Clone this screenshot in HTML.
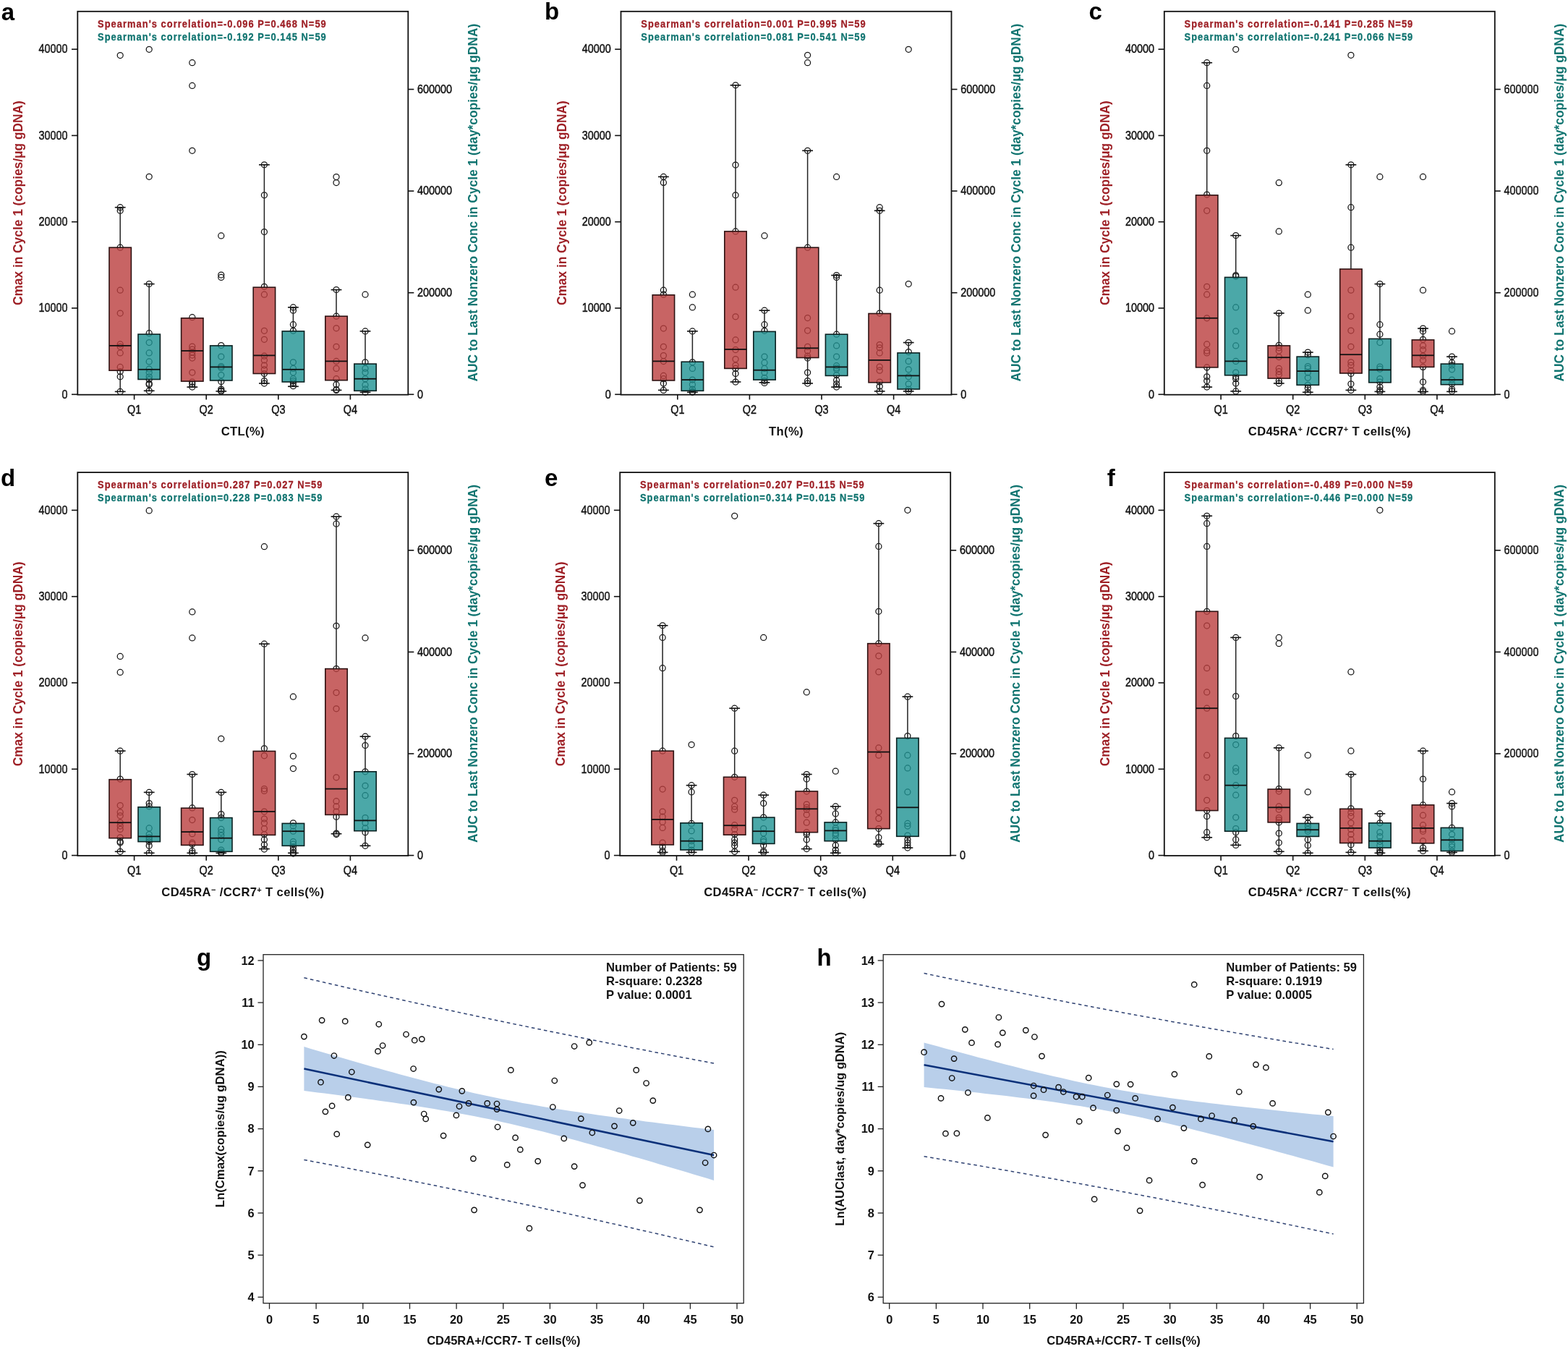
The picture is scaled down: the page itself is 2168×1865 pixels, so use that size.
<!DOCTYPE html>
<html><head><meta charset="utf-8"><title>Figure</title>
<style>
html,body{margin:0;padding:0;background:#fff;}
svg{display:block;}
text{font-family:'Liberation Sans', Arial, sans-serif;}
.tk{font-size:16px;fill:#111;stroke:#111;stroke-width:0.45px;}
.al{font-size:17.5px;font-weight:bold;}
.sp{font-size:15px;font-weight:bold;letter-spacing:1.2px;stroke-width:0.3px;}
.xl{font-size:16.6px;font-weight:bold;fill:#111;letter-spacing:0.37px;}
.lt{font-size:33px;font-weight:bold;fill:#000;}
.sup{font-size:11px;}
.st{font-size:16.4px;font-weight:bold;fill:#111;}
.sx{font-size:16.5px;font-weight:bold;fill:#111;}
.sy{font-size:16.8px;font-weight:bold;fill:#111;}
.ss{font-size:16.6px;font-weight:bold;fill:#111;}
</style></head><body>
<svg width="2168" height="1865" viewBox="0 0 2168 1865">
<rect width="2168" height="1865" fill="#fff"/>
<circle cx="166.2" cy="286.7" r="4.0" fill="none" stroke="#151515" stroke-width="1.25"/>
<circle cx="166.2" cy="291.3" r="4.0" fill="none" stroke="#151515" stroke-width="1.25"/>
<circle cx="166.2" cy="342.2" r="4.0" fill="none" stroke="#151515" stroke-width="1.25"/>
<circle cx="166.2" cy="401.2" r="4.0" fill="none" stroke="#151515" stroke-width="1.25"/>
<circle cx="166.2" cy="433" r="4.0" fill="none" stroke="#151515" stroke-width="1.25"/>
<circle cx="166.2" cy="475.9" r="4.0" fill="none" stroke="#151515" stroke-width="1.25"/>
<circle cx="166.2" cy="479.3" r="4.0" fill="none" stroke="#151515" stroke-width="1.25"/>
<circle cx="166.2" cy="487.9" r="4.0" fill="none" stroke="#151515" stroke-width="1.25"/>
<circle cx="166.2" cy="507.4" r="4.0" fill="none" stroke="#151515" stroke-width="1.25"/>
<circle cx="166.2" cy="513.7" r="4.0" fill="none" stroke="#151515" stroke-width="1.25"/>
<circle cx="166.2" cy="520.8" r="4.0" fill="none" stroke="#151515" stroke-width="1.25"/>
<circle cx="166.2" cy="541.4" r="4.0" fill="none" stroke="#151515" stroke-width="1.25"/>
<circle cx="166.2" cy="76.6" r="4.0" fill="none" stroke="#151515" stroke-width="1.25"/>
<line x1="166.2" y1="286.7" x2="166.2" y2="342.2" stroke="#222" stroke-width="1.5"/>
<line x1="158.8" y1="286.7" x2="173.6" y2="286.7" stroke="#111" stroke-width="1.6"/>
<line x1="166.2" y1="512.2" x2="166.2" y2="541.4" stroke="#222" stroke-width="1.5"/>
<line x1="158.8" y1="541.4" x2="173.6" y2="541.4" stroke="#111" stroke-width="1.6"/>
<rect x="151" y="342.2" width="30.4" height="170" fill="#ba3d3d" fill-opacity="0.8" stroke="#2e1212" stroke-width="1.6"/>
<line x1="151" y1="477.9" x2="181.4" y2="477.9" stroke="#111" stroke-width="1.8"/>
<circle cx="206.2" cy="392.6" r="4.0" fill="none" stroke="#151515" stroke-width="1.25"/>
<circle cx="206.2" cy="460.7" r="4.0" fill="none" stroke="#151515" stroke-width="1.25"/>
<circle cx="206.2" cy="473.6" r="4.0" fill="none" stroke="#151515" stroke-width="1.25"/>
<circle cx="206.2" cy="487.9" r="4.0" fill="none" stroke="#151515" stroke-width="1.25"/>
<circle cx="206.2" cy="499.9" r="4.0" fill="none" stroke="#151515" stroke-width="1.25"/>
<circle cx="206.2" cy="510.2" r="4.0" fill="none" stroke="#151515" stroke-width="1.25"/>
<circle cx="206.2" cy="515.1" r="4.0" fill="none" stroke="#151515" stroke-width="1.25"/>
<circle cx="206.2" cy="520.8" r="4.0" fill="none" stroke="#151515" stroke-width="1.25"/>
<circle cx="206.2" cy="524.5" r="4.0" fill="none" stroke="#151515" stroke-width="1.25"/>
<circle cx="206.2" cy="530.3" r="4.0" fill="none" stroke="#151515" stroke-width="1.25"/>
<circle cx="206.2" cy="531.7" r="4.0" fill="none" stroke="#151515" stroke-width="1.25"/>
<circle cx="206.2" cy="540.3" r="4.0" fill="none" stroke="#151515" stroke-width="1.25"/>
<circle cx="206.2" cy="68.3" r="4.0" fill="none" stroke="#151515" stroke-width="1.25"/>
<circle cx="206.2" cy="244.3" r="4.0" fill="none" stroke="#151515" stroke-width="1.25"/>
<line x1="206.2" y1="392.6" x2="206.2" y2="462.1" stroke="#222" stroke-width="1.5"/>
<line x1="198.8" y1="392.6" x2="213.6" y2="392.6" stroke="#111" stroke-width="1.6"/>
<line x1="206.2" y1="524.5" x2="206.2" y2="540.3" stroke="#222" stroke-width="1.5"/>
<line x1="198.8" y1="540.3" x2="213.6" y2="540.3" stroke="#111" stroke-width="1.6"/>
<rect x="191" y="462.1" width="30.4" height="62.4" fill="#1e9292" fill-opacity="0.8" stroke="#0a2222" stroke-width="1.6"/>
<line x1="191" y1="510.8" x2="221.4" y2="510.8" stroke="#111" stroke-width="1.8"/>
<circle cx="265.8" cy="438.7" r="4.0" fill="none" stroke="#151515" stroke-width="1.25"/>
<circle cx="265.8" cy="479" r="4.0" fill="none" stroke="#151515" stroke-width="1.25"/>
<circle cx="265.8" cy="483" r="4.0" fill="none" stroke="#151515" stroke-width="1.25"/>
<circle cx="265.8" cy="487" r="4.0" fill="none" stroke="#151515" stroke-width="1.25"/>
<circle cx="265.8" cy="491" r="4.0" fill="none" stroke="#151515" stroke-width="1.25"/>
<circle cx="265.8" cy="495" r="4.0" fill="none" stroke="#151515" stroke-width="1.25"/>
<circle cx="265.8" cy="515.1" r="4.0" fill="none" stroke="#151515" stroke-width="1.25"/>
<circle cx="265.8" cy="528" r="4.0" fill="none" stroke="#151515" stroke-width="1.25"/>
<circle cx="265.8" cy="531" r="4.0" fill="none" stroke="#151515" stroke-width="1.25"/>
<circle cx="265.8" cy="535" r="4.0" fill="none" stroke="#151515" stroke-width="1.25"/>
<circle cx="265.8" cy="86.7" r="4.0" fill="none" stroke="#151515" stroke-width="1.25"/>
<circle cx="265.8" cy="118.4" r="4.0" fill="none" stroke="#151515" stroke-width="1.25"/>
<circle cx="265.8" cy="208.3" r="4.0" fill="none" stroke="#151515" stroke-width="1.25"/>
<line x1="265.8" y1="527.1" x2="265.8" y2="535.1" stroke="#222" stroke-width="1.5"/>
<line x1="258.4" y1="535.1" x2="273.2" y2="535.1" stroke="#111" stroke-width="1.6"/>
<rect x="250.6" y="439.8" width="30.4" height="87.3" fill="#ba3d3d" fill-opacity="0.8" stroke="#2e1212" stroke-width="1.6"/>
<line x1="250.6" y1="485" x2="281" y2="485" stroke="#111" stroke-width="1.8"/>
<circle cx="305.8" cy="477.5" r="4.0" fill="none" stroke="#151515" stroke-width="1.25"/>
<circle cx="305.8" cy="493" r="4.0" fill="none" stroke="#151515" stroke-width="1.25"/>
<circle cx="305.8" cy="506.5" r="4.0" fill="none" stroke="#151515" stroke-width="1.25"/>
<circle cx="305.8" cy="508.5" r="4.0" fill="none" stroke="#151515" stroke-width="1.25"/>
<circle cx="305.8" cy="518.5" r="4.0" fill="none" stroke="#151515" stroke-width="1.25"/>
<circle cx="305.8" cy="527.5" r="4.0" fill="none" stroke="#151515" stroke-width="1.25"/>
<circle cx="305.8" cy="538" r="4.0" fill="none" stroke="#151515" stroke-width="1.25"/>
<circle cx="305.8" cy="540" r="4.0" fill="none" stroke="#151515" stroke-width="1.25"/>
<circle cx="305.8" cy="541" r="4.0" fill="none" stroke="#151515" stroke-width="1.25"/>
<circle cx="305.8" cy="325.9" r="4.0" fill="none" stroke="#151515" stroke-width="1.25"/>
<circle cx="305.8" cy="380" r="4.0" fill="none" stroke="#151515" stroke-width="1.25"/>
<circle cx="305.8" cy="383.4" r="4.0" fill="none" stroke="#151515" stroke-width="1.25"/>
<line x1="305.8" y1="526" x2="305.8" y2="540.9" stroke="#222" stroke-width="1.5"/>
<line x1="298.4" y1="540.9" x2="313.2" y2="540.9" stroke="#111" stroke-width="1.6"/>
<rect x="290.6" y="477.9" width="30.4" height="48.1" fill="#1e9292" fill-opacity="0.8" stroke="#0a2222" stroke-width="1.6"/>
<line x1="290.6" y1="507.4" x2="321" y2="507.4" stroke="#111" stroke-width="1.8"/>
<circle cx="365.4" cy="227.8" r="4.0" fill="none" stroke="#151515" stroke-width="1.25"/>
<circle cx="365.4" cy="269.8" r="4.0" fill="none" stroke="#151515" stroke-width="1.25"/>
<circle cx="365.4" cy="320.5" r="4.0" fill="none" stroke="#151515" stroke-width="1.25"/>
<circle cx="365.4" cy="396.3" r="4.0" fill="none" stroke="#151515" stroke-width="1.25"/>
<circle cx="365.4" cy="407.2" r="4.0" fill="none" stroke="#151515" stroke-width="1.25"/>
<circle cx="365.4" cy="457.3" r="4.0" fill="none" stroke="#151515" stroke-width="1.25"/>
<circle cx="365.4" cy="469.3" r="4.0" fill="none" stroke="#151515" stroke-width="1.25"/>
<circle cx="365.4" cy="492.2" r="4.0" fill="none" stroke="#151515" stroke-width="1.25"/>
<circle cx="365.4" cy="497.9" r="4.0" fill="none" stroke="#151515" stroke-width="1.25"/>
<circle cx="365.4" cy="505.1" r="4.0" fill="none" stroke="#151515" stroke-width="1.25"/>
<circle cx="365.4" cy="510.8" r="4.0" fill="none" stroke="#151515" stroke-width="1.25"/>
<circle cx="365.4" cy="516.5" r="4.0" fill="none" stroke="#151515" stroke-width="1.25"/>
<circle cx="365.4" cy="526.6" r="4.0" fill="none" stroke="#151515" stroke-width="1.25"/>
<circle cx="365.4" cy="530" r="4.0" fill="none" stroke="#151515" stroke-width="1.25"/>
<line x1="365.4" y1="227.8" x2="365.4" y2="397.2" stroke="#222" stroke-width="1.5"/>
<line x1="358" y1="227.8" x2="372.8" y2="227.8" stroke="#111" stroke-width="1.6"/>
<line x1="365.4" y1="516.5" x2="365.4" y2="530" stroke="#222" stroke-width="1.5"/>
<line x1="358" y1="530" x2="372.8" y2="530" stroke="#111" stroke-width="1.6"/>
<rect x="350.2" y="397.2" width="30.4" height="119.3" fill="#ba3d3d" fill-opacity="0.8" stroke="#2e1212" stroke-width="1.6"/>
<line x1="350.2" y1="491.4" x2="380.6" y2="491.4" stroke="#111" stroke-width="1.8"/>
<circle cx="405.4" cy="424.9" r="4.0" fill="none" stroke="#151515" stroke-width="1.25"/>
<circle cx="405.4" cy="429.2" r="4.0" fill="none" stroke="#151515" stroke-width="1.25"/>
<circle cx="405.4" cy="448.7" r="4.0" fill="none" stroke="#151515" stroke-width="1.25"/>
<circle cx="405.4" cy="457.3" r="4.0" fill="none" stroke="#151515" stroke-width="1.25"/>
<circle cx="405.4" cy="500.8" r="4.0" fill="none" stroke="#151515" stroke-width="1.25"/>
<circle cx="405.4" cy="509.4" r="4.0" fill="none" stroke="#151515" stroke-width="1.25"/>
<circle cx="405.4" cy="515.1" r="4.0" fill="none" stroke="#151515" stroke-width="1.25"/>
<circle cx="405.4" cy="523.7" r="4.0" fill="none" stroke="#151515" stroke-width="1.25"/>
<circle cx="405.4" cy="526.6" r="4.0" fill="none" stroke="#151515" stroke-width="1.25"/>
<circle cx="405.4" cy="529.4" r="4.0" fill="none" stroke="#151515" stroke-width="1.25"/>
<circle cx="405.4" cy="533.7" r="4.0" fill="none" stroke="#151515" stroke-width="1.25"/>
<line x1="405.4" y1="424.9" x2="405.4" y2="457.9" stroke="#222" stroke-width="1.5"/>
<line x1="398" y1="424.9" x2="412.8" y2="424.9" stroke="#111" stroke-width="1.6"/>
<line x1="405.4" y1="528" x2="405.4" y2="534.3" stroke="#222" stroke-width="1.5"/>
<line x1="398" y1="534.3" x2="412.8" y2="534.3" stroke="#111" stroke-width="1.6"/>
<rect x="390.2" y="457.9" width="30.4" height="70.1" fill="#1e9292" fill-opacity="0.8" stroke="#0a2222" stroke-width="1.6"/>
<line x1="390.2" y1="510.8" x2="420.6" y2="510.8" stroke="#111" stroke-width="1.8"/>
<circle cx="465" cy="400.6" r="4.0" fill="none" stroke="#151515" stroke-width="1.25"/>
<circle cx="465" cy="437.2" r="4.0" fill="none" stroke="#151515" stroke-width="1.25"/>
<circle cx="465" cy="453.8" r="4.0" fill="none" stroke="#151515" stroke-width="1.25"/>
<circle cx="465" cy="479.3" r="4.0" fill="none" stroke="#151515" stroke-width="1.25"/>
<circle cx="465" cy="499.4" r="4.0" fill="none" stroke="#151515" stroke-width="1.25"/>
<circle cx="465" cy="509.4" r="4.0" fill="none" stroke="#151515" stroke-width="1.25"/>
<circle cx="465" cy="523.7" r="4.0" fill="none" stroke="#151515" stroke-width="1.25"/>
<circle cx="465" cy="531.7" r="4.0" fill="none" stroke="#151515" stroke-width="1.25"/>
<circle cx="465" cy="538.6" r="4.0" fill="none" stroke="#151515" stroke-width="1.25"/>
<circle cx="465" cy="539.4" r="4.0" fill="none" stroke="#151515" stroke-width="1.25"/>
<circle cx="465" cy="244.6" r="4.0" fill="none" stroke="#151515" stroke-width="1.25"/>
<circle cx="465" cy="252.6" r="4.0" fill="none" stroke="#151515" stroke-width="1.25"/>
<line x1="465" y1="400.6" x2="465" y2="437.2" stroke="#222" stroke-width="1.5"/>
<line x1="457.6" y1="400.6" x2="472.4" y2="400.6" stroke="#111" stroke-width="1.6"/>
<line x1="465" y1="525.7" x2="465" y2="539.4" stroke="#222" stroke-width="1.5"/>
<line x1="457.6" y1="539.4" x2="472.4" y2="539.4" stroke="#111" stroke-width="1.6"/>
<rect x="449.8" y="437.2" width="30.4" height="88.5" fill="#ba3d3d" fill-opacity="0.8" stroke="#2e1212" stroke-width="1.6"/>
<line x1="449.8" y1="499.4" x2="480.2" y2="499.4" stroke="#111" stroke-width="1.8"/>
<circle cx="505" cy="457.9" r="4.0" fill="none" stroke="#151515" stroke-width="1.25"/>
<circle cx="505" cy="500.8" r="4.0" fill="none" stroke="#151515" stroke-width="1.25"/>
<circle cx="505" cy="509.4" r="4.0" fill="none" stroke="#151515" stroke-width="1.25"/>
<circle cx="505" cy="515.1" r="4.0" fill="none" stroke="#151515" stroke-width="1.25"/>
<circle cx="505" cy="523.7" r="4.0" fill="none" stroke="#151515" stroke-width="1.25"/>
<circle cx="505" cy="532.2" r="4.0" fill="none" stroke="#151515" stroke-width="1.25"/>
<circle cx="505" cy="537.9" r="4.0" fill="none" stroke="#151515" stroke-width="1.25"/>
<circle cx="505" cy="542.3" r="4.0" fill="none" stroke="#151515" stroke-width="1.25"/>
<circle cx="505" cy="407.2" r="4.0" fill="none" stroke="#151515" stroke-width="1.25"/>
<line x1="505" y1="457.9" x2="505" y2="503.1" stroke="#222" stroke-width="1.5"/>
<line x1="497.6" y1="457.9" x2="512.4" y2="457.9" stroke="#111" stroke-width="1.6"/>
<line x1="505" y1="540.3" x2="505" y2="542.3" stroke="#222" stroke-width="1.5"/>
<line x1="497.6" y1="542.3" x2="512.4" y2="542.3" stroke="#111" stroke-width="1.6"/>
<rect x="489.8" y="503.1" width="30.4" height="37.2" fill="#1e9292" fill-opacity="0.8" stroke="#0a2222" stroke-width="1.6"/>
<line x1="489.8" y1="523.7" x2="520.2" y2="523.7" stroke="#111" stroke-width="1.8"/>
<rect x="107.3" y="15.8" width="457" height="529.9" fill="none" stroke="#111" stroke-width="1.8"/>
<line x1="99" y1="545.3" x2="107.3" y2="545.3" stroke="#111" stroke-width="1.6"/>
<text transform="translate(93.6,550.6) scale(0.9,1)" text-anchor="end" class="tk">0</text>
<line x1="99" y1="426" x2="107.3" y2="426" stroke="#111" stroke-width="1.6"/>
<text transform="translate(93.6,431.3) scale(0.9,1)" text-anchor="end" class="tk">10000</text>
<line x1="99" y1="306.7" x2="107.3" y2="306.7" stroke="#111" stroke-width="1.6"/>
<text transform="translate(93.6,312) scale(0.9,1)" text-anchor="end" class="tk">20000</text>
<line x1="99" y1="187.4" x2="107.3" y2="187.4" stroke="#111" stroke-width="1.6"/>
<text transform="translate(93.6,192.7) scale(0.9,1)" text-anchor="end" class="tk">30000</text>
<line x1="99" y1="68.1" x2="107.3" y2="68.1" stroke="#111" stroke-width="1.6"/>
<text transform="translate(93.6,73.4) scale(0.9,1)" text-anchor="end" class="tk">40000</text>
<line x1="564.3" y1="545.3" x2="572.3" y2="545.3" stroke="#111" stroke-width="1.6"/>
<text transform="translate(577,550.6) scale(0.9,1)" class="tk">0</text>
<line x1="564.3" y1="404.7" x2="572.3" y2="404.7" stroke="#111" stroke-width="1.6"/>
<text transform="translate(577,410) scale(0.9,1)" class="tk">200000</text>
<line x1="564.3" y1="264.1" x2="572.3" y2="264.1" stroke="#111" stroke-width="1.6"/>
<text transform="translate(577,269.4) scale(0.9,1)" class="tk">400000</text>
<line x1="564.3" y1="123.5" x2="572.3" y2="123.5" stroke="#111" stroke-width="1.6"/>
<text transform="translate(577,128.8) scale(0.9,1)" class="tk">600000</text>
<line x1="185.6" y1="545.7" x2="185.6" y2="552.5" stroke="#111" stroke-width="1.6"/>
<text transform="translate(185.6,572) scale(0.9,1)" text-anchor="middle" class="tk">Q1</text>
<line x1="285.2" y1="545.7" x2="285.2" y2="552.5" stroke="#111" stroke-width="1.6"/>
<text transform="translate(285.2,572) scale(0.9,1)" text-anchor="middle" class="tk">Q2</text>
<line x1="384.8" y1="545.7" x2="384.8" y2="552.5" stroke="#111" stroke-width="1.6"/>
<text transform="translate(384.8,572) scale(0.9,1)" text-anchor="middle" class="tk">Q3</text>
<line x1="484.4" y1="545.7" x2="484.4" y2="552.5" stroke="#111" stroke-width="1.6"/>
<text transform="translate(484.4,572) scale(0.9,1)" text-anchor="middle" class="tk">Q4</text>
<text transform="translate(31.3,280.6) rotate(-90) scale(0.99,1)" text-anchor="middle" class="al" fill="#9e2026" >Cmax in Cycle 1 (copies/μg gDNA)</text>
<text transform="translate(659.8,280.2) rotate(-90) scale(0.993,1)" text-anchor="middle" class="al" fill="#107470" >AUC to Last Nonzero Conc in Cycle 1 (day*copies/μg gDNA)</text>
<text transform="translate(135.1,37.6) scale(0.86,1)" class="sp" fill="#9e2026" stroke="#9e2026">Spearman's correlation=-0.096 P=0.468 N=59</text>
<text transform="translate(135.1,55.6) scale(0.86,1)" class="sp" fill="#107470" stroke="#107470">Spearman's correlation=-0.192 P=0.145 N=59</text>
<text transform="translate(335.8,602.1)" text-anchor="middle" class="xl">CTL(%)</text>
<text x="1.8" y="28" class="lt">a</text>
<circle cx="917.4" cy="244.4" r="4.0" fill="none" stroke="#151515" stroke-width="1.25"/>
<circle cx="917.4" cy="252.4" r="4.0" fill="none" stroke="#151515" stroke-width="1.25"/>
<circle cx="917.4" cy="401.2" r="4.0" fill="none" stroke="#151515" stroke-width="1.25"/>
<circle cx="917.4" cy="407.2" r="4.0" fill="none" stroke="#151515" stroke-width="1.25"/>
<circle cx="917.4" cy="454.1" r="4.0" fill="none" stroke="#151515" stroke-width="1.25"/>
<circle cx="917.4" cy="479.3" r="4.0" fill="none" stroke="#151515" stroke-width="1.25"/>
<circle cx="917.4" cy="491.6" r="4.0" fill="none" stroke="#151515" stroke-width="1.25"/>
<circle cx="917.4" cy="499.6" r="4.0" fill="none" stroke="#151515" stroke-width="1.25"/>
<circle cx="917.4" cy="519.4" r="4.0" fill="none" stroke="#151515" stroke-width="1.25"/>
<circle cx="917.4" cy="523.7" r="4.0" fill="none" stroke="#151515" stroke-width="1.25"/>
<circle cx="917.4" cy="530" r="4.0" fill="none" stroke="#151515" stroke-width="1.25"/>
<circle cx="917.4" cy="539.4" r="4.0" fill="none" stroke="#151515" stroke-width="1.25"/>
<line x1="917.4" y1="244.4" x2="917.4" y2="407.8" stroke="#222" stroke-width="1.5"/>
<line x1="910" y1="244.4" x2="924.8" y2="244.4" stroke="#111" stroke-width="1.6"/>
<line x1="917.4" y1="526" x2="917.4" y2="539.4" stroke="#222" stroke-width="1.5"/>
<line x1="910" y1="539.4" x2="924.8" y2="539.4" stroke="#111" stroke-width="1.6"/>
<rect x="902.2" y="407.8" width="30.4" height="118.2" fill="#ba3d3d" fill-opacity="0.8" stroke="#2e1212" stroke-width="1.6"/>
<line x1="902.2" y1="499.4" x2="932.6" y2="499.4" stroke="#111" stroke-width="1.8"/>
<circle cx="957.4" cy="457.9" r="4.0" fill="none" stroke="#151515" stroke-width="1.25"/>
<circle cx="957.4" cy="500.8" r="4.0" fill="none" stroke="#151515" stroke-width="1.25"/>
<circle cx="957.4" cy="509.4" r="4.0" fill="none" stroke="#151515" stroke-width="1.25"/>
<circle cx="957.4" cy="525.1" r="4.0" fill="none" stroke="#151515" stroke-width="1.25"/>
<circle cx="957.4" cy="531.7" r="4.0" fill="none" stroke="#151515" stroke-width="1.25"/>
<circle cx="957.4" cy="538" r="4.0" fill="none" stroke="#151515" stroke-width="1.25"/>
<circle cx="957.4" cy="541.4" r="4.0" fill="none" stroke="#151515" stroke-width="1.25"/>
<circle cx="957.4" cy="542.3" r="4.0" fill="none" stroke="#151515" stroke-width="1.25"/>
<circle cx="957.4" cy="407.2" r="4.0" fill="none" stroke="#151515" stroke-width="1.25"/>
<circle cx="957.4" cy="424.9" r="4.0" fill="none" stroke="#151515" stroke-width="1.25"/>
<line x1="957.4" y1="457.9" x2="957.4" y2="500.2" stroke="#222" stroke-width="1.5"/>
<line x1="950" y1="457.9" x2="964.8" y2="457.9" stroke="#111" stroke-width="1.6"/>
<line x1="957.4" y1="540.3" x2="957.4" y2="542.3" stroke="#222" stroke-width="1.5"/>
<line x1="950" y1="542.3" x2="964.8" y2="542.3" stroke="#111" stroke-width="1.6"/>
<rect x="942.2" y="500.2" width="30.4" height="40.1" fill="#1e9292" fill-opacity="0.8" stroke="#0a2222" stroke-width="1.6"/>
<line x1="942.2" y1="525.1" x2="972.6" y2="525.1" stroke="#111" stroke-width="1.8"/>
<circle cx="1017" cy="117.8" r="4.0" fill="none" stroke="#151515" stroke-width="1.25"/>
<circle cx="1017" cy="228" r="4.0" fill="none" stroke="#151515" stroke-width="1.25"/>
<circle cx="1017" cy="269.8" r="4.0" fill="none" stroke="#151515" stroke-width="1.25"/>
<circle cx="1017" cy="319.9" r="4.0" fill="none" stroke="#151515" stroke-width="1.25"/>
<circle cx="1017" cy="397.2" r="4.0" fill="none" stroke="#151515" stroke-width="1.25"/>
<circle cx="1017" cy="437.8" r="4.0" fill="none" stroke="#151515" stroke-width="1.25"/>
<circle cx="1017" cy="469.9" r="4.0" fill="none" stroke="#151515" stroke-width="1.25"/>
<circle cx="1017" cy="483.6" r="4.0" fill="none" stroke="#151515" stroke-width="1.25"/>
<circle cx="1017" cy="496.5" r="4.0" fill="none" stroke="#151515" stroke-width="1.25"/>
<circle cx="1017" cy="505.1" r="4.0" fill="none" stroke="#151515" stroke-width="1.25"/>
<circle cx="1017" cy="509.4" r="4.0" fill="none" stroke="#151515" stroke-width="1.25"/>
<circle cx="1017" cy="516.5" r="4.0" fill="none" stroke="#151515" stroke-width="1.25"/>
<circle cx="1017" cy="528" r="4.0" fill="none" stroke="#151515" stroke-width="1.25"/>
<line x1="1017" y1="117.8" x2="1017" y2="319.9" stroke="#222" stroke-width="1.5"/>
<line x1="1009.6" y1="117.8" x2="1024.4" y2="117.8" stroke="#111" stroke-width="1.6"/>
<line x1="1017" y1="509.4" x2="1017" y2="528" stroke="#222" stroke-width="1.5"/>
<line x1="1009.6" y1="528" x2="1024.4" y2="528" stroke="#111" stroke-width="1.6"/>
<rect x="1001.8" y="319.9" width="30.4" height="189.5" fill="#ba3d3d" fill-opacity="0.8" stroke="#2e1212" stroke-width="1.6"/>
<line x1="1001.8" y1="483" x2="1032.2" y2="483" stroke="#111" stroke-width="1.8"/>
<circle cx="1057" cy="429.2" r="4.0" fill="none" stroke="#151515" stroke-width="1.25"/>
<circle cx="1057" cy="448.7" r="4.0" fill="none" stroke="#151515" stroke-width="1.25"/>
<circle cx="1057" cy="457.3" r="4.0" fill="none" stroke="#151515" stroke-width="1.25"/>
<circle cx="1057" cy="493.1" r="4.0" fill="none" stroke="#151515" stroke-width="1.25"/>
<circle cx="1057" cy="501.4" r="4.0" fill="none" stroke="#151515" stroke-width="1.25"/>
<circle cx="1057" cy="509.4" r="4.0" fill="none" stroke="#151515" stroke-width="1.25"/>
<circle cx="1057" cy="515.1" r="4.0" fill="none" stroke="#151515" stroke-width="1.25"/>
<circle cx="1057" cy="522.3" r="4.0" fill="none" stroke="#151515" stroke-width="1.25"/>
<circle cx="1057" cy="526.5" r="4.0" fill="none" stroke="#151515" stroke-width="1.25"/>
<circle cx="1057" cy="529.4" r="4.0" fill="none" stroke="#151515" stroke-width="1.25"/>
<circle cx="1057" cy="325.9" r="4.0" fill="none" stroke="#151515" stroke-width="1.25"/>
<line x1="1057" y1="429.2" x2="1057" y2="458.4" stroke="#222" stroke-width="1.5"/>
<line x1="1049.6" y1="429.2" x2="1064.4" y2="429.2" stroke="#111" stroke-width="1.6"/>
<line x1="1057" y1="525.1" x2="1057" y2="528.8" stroke="#222" stroke-width="1.5"/>
<line x1="1049.6" y1="528.8" x2="1064.4" y2="528.8" stroke="#111" stroke-width="1.6"/>
<rect x="1041.8" y="458.4" width="30.4" height="66.7" fill="#1e9292" fill-opacity="0.8" stroke="#0a2222" stroke-width="1.6"/>
<line x1="1041.8" y1="511.7" x2="1072.2" y2="511.7" stroke="#111" stroke-width="1.8"/>
<circle cx="1116.6" cy="208.3" r="4.0" fill="none" stroke="#151515" stroke-width="1.25"/>
<circle cx="1116.6" cy="342.2" r="4.0" fill="none" stroke="#151515" stroke-width="1.25"/>
<circle cx="1116.6" cy="439.5" r="4.0" fill="none" stroke="#151515" stroke-width="1.25"/>
<circle cx="1116.6" cy="457" r="4.0" fill="none" stroke="#151515" stroke-width="1.25"/>
<circle cx="1116.6" cy="479.3" r="4.0" fill="none" stroke="#151515" stroke-width="1.25"/>
<circle cx="1116.6" cy="485" r="4.0" fill="none" stroke="#151515" stroke-width="1.25"/>
<circle cx="1116.6" cy="492.2" r="4.0" fill="none" stroke="#151515" stroke-width="1.25"/>
<circle cx="1116.6" cy="495.1" r="4.0" fill="none" stroke="#151515" stroke-width="1.25"/>
<circle cx="1116.6" cy="515.1" r="4.0" fill="none" stroke="#151515" stroke-width="1.25"/>
<circle cx="1116.6" cy="526.5" r="4.0" fill="none" stroke="#151515" stroke-width="1.25"/>
<circle cx="1116.6" cy="530" r="4.0" fill="none" stroke="#151515" stroke-width="1.25"/>
<circle cx="1116.6" cy="76.3" r="4.0" fill="none" stroke="#151515" stroke-width="1.25"/>
<circle cx="1116.6" cy="86.7" r="4.0" fill="none" stroke="#151515" stroke-width="1.25"/>
<line x1="1116.6" y1="208.3" x2="1116.6" y2="342.2" stroke="#222" stroke-width="1.5"/>
<line x1="1109.2" y1="208.3" x2="1124" y2="208.3" stroke="#111" stroke-width="1.6"/>
<line x1="1116.6" y1="494.5" x2="1116.6" y2="530" stroke="#222" stroke-width="1.5"/>
<line x1="1109.2" y1="530" x2="1124" y2="530" stroke="#111" stroke-width="1.6"/>
<rect x="1101.4" y="342.2" width="30.4" height="152.3" fill="#ba3d3d" fill-opacity="0.8" stroke="#2e1212" stroke-width="1.6"/>
<line x1="1101.4" y1="481.3" x2="1131.8" y2="481.3" stroke="#111" stroke-width="1.8"/>
<circle cx="1156.6" cy="380.6" r="4.0" fill="none" stroke="#151515" stroke-width="1.25"/>
<circle cx="1156.6" cy="383.4" r="4.0" fill="none" stroke="#151515" stroke-width="1.25"/>
<circle cx="1156.6" cy="462.2" r="4.0" fill="none" stroke="#151515" stroke-width="1.25"/>
<circle cx="1156.6" cy="477.9" r="4.0" fill="none" stroke="#151515" stroke-width="1.25"/>
<circle cx="1156.6" cy="493.1" r="4.0" fill="none" stroke="#151515" stroke-width="1.25"/>
<circle cx="1156.6" cy="505.7" r="4.0" fill="none" stroke="#151515" stroke-width="1.25"/>
<circle cx="1156.6" cy="508.8" r="4.0" fill="none" stroke="#151515" stroke-width="1.25"/>
<circle cx="1156.6" cy="510.8" r="4.0" fill="none" stroke="#151515" stroke-width="1.25"/>
<circle cx="1156.6" cy="518.5" r="4.0" fill="none" stroke="#151515" stroke-width="1.25"/>
<circle cx="1156.6" cy="525.7" r="4.0" fill="none" stroke="#151515" stroke-width="1.25"/>
<circle cx="1156.6" cy="530.8" r="4.0" fill="none" stroke="#151515" stroke-width="1.25"/>
<circle cx="1156.6" cy="535.1" r="4.0" fill="none" stroke="#151515" stroke-width="1.25"/>
<circle cx="1156.6" cy="244.4" r="4.0" fill="none" stroke="#151515" stroke-width="1.25"/>
<line x1="1156.6" y1="380.6" x2="1156.6" y2="462.2" stroke="#222" stroke-width="1.5"/>
<line x1="1149.2" y1="380.6" x2="1164" y2="380.6" stroke="#111" stroke-width="1.6"/>
<line x1="1156.6" y1="519.4" x2="1156.6" y2="535.1" stroke="#222" stroke-width="1.5"/>
<line x1="1149.2" y1="535.1" x2="1164" y2="535.1" stroke="#111" stroke-width="1.6"/>
<rect x="1141.4" y="462.2" width="30.4" height="57.2" fill="#1e9292" fill-opacity="0.8" stroke="#0a2222" stroke-width="1.6"/>
<line x1="1141.4" y1="507.4" x2="1171.8" y2="507.4" stroke="#111" stroke-width="1.8"/>
<circle cx="1216.2" cy="286.7" r="4.0" fill="none" stroke="#151515" stroke-width="1.25"/>
<circle cx="1216.2" cy="291.3" r="4.0" fill="none" stroke="#151515" stroke-width="1.25"/>
<circle cx="1216.2" cy="401.2" r="4.0" fill="none" stroke="#151515" stroke-width="1.25"/>
<circle cx="1216.2" cy="433" r="4.0" fill="none" stroke="#151515" stroke-width="1.25"/>
<circle cx="1216.2" cy="476.5" r="4.0" fill="none" stroke="#151515" stroke-width="1.25"/>
<circle cx="1216.2" cy="480.8" r="4.0" fill="none" stroke="#151515" stroke-width="1.25"/>
<circle cx="1216.2" cy="487.9" r="4.0" fill="none" stroke="#151515" stroke-width="1.25"/>
<circle cx="1216.2" cy="507.1" r="4.0" fill="none" stroke="#151515" stroke-width="1.25"/>
<circle cx="1216.2" cy="512.2" r="4.0" fill="none" stroke="#151515" stroke-width="1.25"/>
<circle cx="1216.2" cy="528" r="4.0" fill="none" stroke="#151515" stroke-width="1.25"/>
<circle cx="1216.2" cy="534.3" r="4.0" fill="none" stroke="#151515" stroke-width="1.25"/>
<circle cx="1216.2" cy="540.9" r="4.0" fill="none" stroke="#151515" stroke-width="1.25"/>
<line x1="1216.2" y1="291.3" x2="1216.2" y2="433.5" stroke="#222" stroke-width="1.5"/>
<line x1="1208.8" y1="291.3" x2="1223.6" y2="291.3" stroke="#111" stroke-width="1.6"/>
<line x1="1216.2" y1="528.8" x2="1216.2" y2="540.9" stroke="#222" stroke-width="1.5"/>
<line x1="1208.8" y1="540.9" x2="1223.6" y2="540.9" stroke="#111" stroke-width="1.6"/>
<rect x="1201" y="433.5" width="30.4" height="95.3" fill="#ba3d3d" fill-opacity="0.8" stroke="#2e1212" stroke-width="1.6"/>
<line x1="1201" y1="497.9" x2="1231.4" y2="497.9" stroke="#111" stroke-width="1.8"/>
<circle cx="1256.2" cy="473.6" r="4.0" fill="none" stroke="#151515" stroke-width="1.25"/>
<circle cx="1256.2" cy="486.5" r="4.0" fill="none" stroke="#151515" stroke-width="1.25"/>
<circle cx="1256.2" cy="499.4" r="4.0" fill="none" stroke="#151515" stroke-width="1.25"/>
<circle cx="1256.2" cy="510.8" r="4.0" fill="none" stroke="#151515" stroke-width="1.25"/>
<circle cx="1256.2" cy="520.8" r="4.0" fill="none" stroke="#151515" stroke-width="1.25"/>
<circle cx="1256.2" cy="530.8" r="4.0" fill="none" stroke="#151515" stroke-width="1.25"/>
<circle cx="1256.2" cy="538" r="4.0" fill="none" stroke="#151515" stroke-width="1.25"/>
<circle cx="1256.2" cy="540.9" r="4.0" fill="none" stroke="#151515" stroke-width="1.25"/>
<circle cx="1256.2" cy="68.3" r="4.0" fill="none" stroke="#151515" stroke-width="1.25"/>
<circle cx="1256.2" cy="392.6" r="4.0" fill="none" stroke="#151515" stroke-width="1.25"/>
<line x1="1256.2" y1="473.6" x2="1256.2" y2="487.9" stroke="#222" stroke-width="1.5"/>
<line x1="1248.8" y1="473.6" x2="1263.6" y2="473.6" stroke="#111" stroke-width="1.6"/>
<line x1="1256.2" y1="538" x2="1256.2" y2="540.9" stroke="#222" stroke-width="1.5"/>
<line x1="1248.8" y1="540.9" x2="1263.6" y2="540.9" stroke="#111" stroke-width="1.6"/>
<rect x="1241" y="487.9" width="30.4" height="50.1" fill="#1e9292" fill-opacity="0.8" stroke="#0a2222" stroke-width="1.6"/>
<line x1="1241" y1="519.4" x2="1271.4" y2="519.4" stroke="#111" stroke-width="1.8"/>
<rect x="858.5" y="15.8" width="457" height="529.9" fill="none" stroke="#111" stroke-width="1.8"/>
<line x1="850.2" y1="545.3" x2="858.5" y2="545.3" stroke="#111" stroke-width="1.6"/>
<text transform="translate(844.8,550.6) scale(0.9,1)" text-anchor="end" class="tk">0</text>
<line x1="850.2" y1="426" x2="858.5" y2="426" stroke="#111" stroke-width="1.6"/>
<text transform="translate(844.8,431.3) scale(0.9,1)" text-anchor="end" class="tk">10000</text>
<line x1="850.2" y1="306.7" x2="858.5" y2="306.7" stroke="#111" stroke-width="1.6"/>
<text transform="translate(844.8,312) scale(0.9,1)" text-anchor="end" class="tk">20000</text>
<line x1="850.2" y1="187.4" x2="858.5" y2="187.4" stroke="#111" stroke-width="1.6"/>
<text transform="translate(844.8,192.7) scale(0.9,1)" text-anchor="end" class="tk">30000</text>
<line x1="850.2" y1="68.1" x2="858.5" y2="68.1" stroke="#111" stroke-width="1.6"/>
<text transform="translate(844.8,73.4) scale(0.9,1)" text-anchor="end" class="tk">40000</text>
<line x1="1315.5" y1="545.3" x2="1323.5" y2="545.3" stroke="#111" stroke-width="1.6"/>
<text transform="translate(1328.2,550.6) scale(0.9,1)" class="tk">0</text>
<line x1="1315.5" y1="404.7" x2="1323.5" y2="404.7" stroke="#111" stroke-width="1.6"/>
<text transform="translate(1328.2,410) scale(0.9,1)" class="tk">200000</text>
<line x1="1315.5" y1="264.1" x2="1323.5" y2="264.1" stroke="#111" stroke-width="1.6"/>
<text transform="translate(1328.2,269.4) scale(0.9,1)" class="tk">400000</text>
<line x1="1315.5" y1="123.5" x2="1323.5" y2="123.5" stroke="#111" stroke-width="1.6"/>
<text transform="translate(1328.2,128.8) scale(0.9,1)" class="tk">600000</text>
<line x1="936.8" y1="545.7" x2="936.8" y2="552.5" stroke="#111" stroke-width="1.6"/>
<text transform="translate(936.8,572) scale(0.9,1)" text-anchor="middle" class="tk">Q1</text>
<line x1="1036.4" y1="545.7" x2="1036.4" y2="552.5" stroke="#111" stroke-width="1.6"/>
<text transform="translate(1036.4,572) scale(0.9,1)" text-anchor="middle" class="tk">Q2</text>
<line x1="1136" y1="545.7" x2="1136" y2="552.5" stroke="#111" stroke-width="1.6"/>
<text transform="translate(1136,572) scale(0.9,1)" text-anchor="middle" class="tk">Q3</text>
<line x1="1235.6" y1="545.7" x2="1235.6" y2="552.5" stroke="#111" stroke-width="1.6"/>
<text transform="translate(1235.6,572) scale(0.9,1)" text-anchor="middle" class="tk">Q4</text>
<text transform="translate(782.5,280.6) rotate(-90) scale(0.99,1)" text-anchor="middle" class="al" fill="#9e2026" >Cmax in Cycle 1 (copies/μg gDNA)</text>
<text transform="translate(1411,280.2) rotate(-90) scale(0.993,1)" text-anchor="middle" class="al" fill="#107470" >AUC to Last Nonzero Conc in Cycle 1 (day*copies/μg gDNA)</text>
<text transform="translate(886.3,37.6) scale(0.86,1)" class="sp" fill="#9e2026" stroke="#9e2026">Spearman's correlation=0.001 P=0.995 N=59</text>
<text transform="translate(886.3,55.6) scale(0.86,1)" class="sp" fill="#107470" stroke="#107470">Spearman's correlation=0.081 P=0.541 N=59</text>
<text transform="translate(1087,602.1)" text-anchor="middle" class="xl">Th(%)</text>
<text x="753" y="26.6" class="lt">b</text>
<circle cx="1668.7" cy="86.7" r="4.0" fill="none" stroke="#151515" stroke-width="1.25"/>
<circle cx="1668.7" cy="118.4" r="4.0" fill="none" stroke="#151515" stroke-width="1.25"/>
<circle cx="1668.7" cy="208.3" r="4.0" fill="none" stroke="#151515" stroke-width="1.25"/>
<circle cx="1668.7" cy="269" r="4.0" fill="none" stroke="#151515" stroke-width="1.25"/>
<circle cx="1668.7" cy="291.3" r="4.0" fill="none" stroke="#151515" stroke-width="1.25"/>
<circle cx="1668.7" cy="396.3" r="4.0" fill="none" stroke="#151515" stroke-width="1.25"/>
<circle cx="1668.7" cy="407.2" r="4.0" fill="none" stroke="#151515" stroke-width="1.25"/>
<circle cx="1668.7" cy="439.8" r="4.0" fill="none" stroke="#151515" stroke-width="1.25"/>
<circle cx="1668.7" cy="475.9" r="4.0" fill="none" stroke="#151515" stroke-width="1.25"/>
<circle cx="1668.7" cy="485" r="4.0" fill="none" stroke="#151515" stroke-width="1.25"/>
<circle cx="1668.7" cy="487.9" r="4.0" fill="none" stroke="#151515" stroke-width="1.25"/>
<circle cx="1668.7" cy="507.9" r="4.0" fill="none" stroke="#151515" stroke-width="1.25"/>
<circle cx="1668.7" cy="520.8" r="4.0" fill="none" stroke="#151515" stroke-width="1.25"/>
<circle cx="1668.7" cy="526.5" r="4.0" fill="none" stroke="#151515" stroke-width="1.25"/>
<circle cx="1668.7" cy="535.1" r="4.0" fill="none" stroke="#151515" stroke-width="1.25"/>
<line x1="1668.7" y1="86.7" x2="1668.7" y2="269.8" stroke="#222" stroke-width="1.5"/>
<line x1="1661.3" y1="86.7" x2="1676.1" y2="86.7" stroke="#111" stroke-width="1.6"/>
<line x1="1668.7" y1="507.9" x2="1668.7" y2="535.1" stroke="#222" stroke-width="1.5"/>
<line x1="1661.3" y1="535.1" x2="1676.1" y2="535.1" stroke="#111" stroke-width="1.6"/>
<rect x="1653.5" y="269.8" width="30.4" height="238.1" fill="#ba3d3d" fill-opacity="0.8" stroke="#2e1212" stroke-width="1.6"/>
<line x1="1653.5" y1="439.8" x2="1683.9" y2="439.8" stroke="#111" stroke-width="1.8"/>
<circle cx="1708.7" cy="325.6" r="4.0" fill="none" stroke="#151515" stroke-width="1.25"/>
<circle cx="1708.7" cy="380.6" r="4.0" fill="none" stroke="#151515" stroke-width="1.25"/>
<circle cx="1708.7" cy="382" r="4.0" fill="none" stroke="#151515" stroke-width="1.25"/>
<circle cx="1708.7" cy="424.9" r="4.0" fill="none" stroke="#151515" stroke-width="1.25"/>
<circle cx="1708.7" cy="457.9" r="4.0" fill="none" stroke="#151515" stroke-width="1.25"/>
<circle cx="1708.7" cy="477.9" r="4.0" fill="none" stroke="#151515" stroke-width="1.25"/>
<circle cx="1708.7" cy="499.4" r="4.0" fill="none" stroke="#151515" stroke-width="1.25"/>
<circle cx="1708.7" cy="515.1" r="4.0" fill="none" stroke="#151515" stroke-width="1.25"/>
<circle cx="1708.7" cy="520.8" r="4.0" fill="none" stroke="#151515" stroke-width="1.25"/>
<circle cx="1708.7" cy="523.7" r="4.0" fill="none" stroke="#151515" stroke-width="1.25"/>
<circle cx="1708.7" cy="530" r="4.0" fill="none" stroke="#151515" stroke-width="1.25"/>
<circle cx="1708.7" cy="540.9" r="4.0" fill="none" stroke="#151515" stroke-width="1.25"/>
<circle cx="1708.7" cy="68.3" r="4.0" fill="none" stroke="#151515" stroke-width="1.25"/>
<line x1="1708.7" y1="325.6" x2="1708.7" y2="383.4" stroke="#222" stroke-width="1.5"/>
<line x1="1701.3" y1="325.6" x2="1716.1" y2="325.6" stroke="#111" stroke-width="1.6"/>
<line x1="1708.7" y1="518.8" x2="1708.7" y2="540.9" stroke="#222" stroke-width="1.5"/>
<line x1="1701.3" y1="540.9" x2="1716.1" y2="540.9" stroke="#111" stroke-width="1.6"/>
<rect x="1693.5" y="383.4" width="30.4" height="135.4" fill="#1e9292" fill-opacity="0.8" stroke="#0a2222" stroke-width="1.6"/>
<line x1="1693.5" y1="499.4" x2="1723.9" y2="499.4" stroke="#111" stroke-width="1.8"/>
<circle cx="1768.3" cy="433" r="4.0" fill="none" stroke="#151515" stroke-width="1.25"/>
<circle cx="1768.3" cy="477.3" r="4.0" fill="none" stroke="#151515" stroke-width="1.25"/>
<circle cx="1768.3" cy="480.8" r="4.0" fill="none" stroke="#151515" stroke-width="1.25"/>
<circle cx="1768.3" cy="485" r="4.0" fill="none" stroke="#151515" stroke-width="1.25"/>
<circle cx="1768.3" cy="493.6" r="4.0" fill="none" stroke="#151515" stroke-width="1.25"/>
<circle cx="1768.3" cy="509.4" r="4.0" fill="none" stroke="#151515" stroke-width="1.25"/>
<circle cx="1768.3" cy="513.7" r="4.0" fill="none" stroke="#151515" stroke-width="1.25"/>
<circle cx="1768.3" cy="518" r="4.0" fill="none" stroke="#151515" stroke-width="1.25"/>
<circle cx="1768.3" cy="526.5" r="4.0" fill="none" stroke="#151515" stroke-width="1.25"/>
<circle cx="1768.3" cy="530" r="4.0" fill="none" stroke="#151515" stroke-width="1.25"/>
<circle cx="1768.3" cy="252.7" r="4.0" fill="none" stroke="#151515" stroke-width="1.25"/>
<circle cx="1768.3" cy="319.9" r="4.0" fill="none" stroke="#151515" stroke-width="1.25"/>
<line x1="1768.3" y1="433" x2="1768.3" y2="477.9" stroke="#222" stroke-width="1.5"/>
<line x1="1760.9" y1="433" x2="1775.7" y2="433" stroke="#111" stroke-width="1.6"/>
<line x1="1768.3" y1="523.1" x2="1768.3" y2="530" stroke="#222" stroke-width="1.5"/>
<line x1="1760.9" y1="530" x2="1775.7" y2="530" stroke="#111" stroke-width="1.6"/>
<rect x="1753.1" y="477.9" width="30.4" height="45.2" fill="#ba3d3d" fill-opacity="0.8" stroke="#2e1212" stroke-width="1.6"/>
<line x1="1753.1" y1="494.2" x2="1783.5" y2="494.2" stroke="#111" stroke-width="1.8"/>
<circle cx="1808.3" cy="487.1" r="4.0" fill="none" stroke="#151515" stroke-width="1.25"/>
<circle cx="1808.3" cy="490.8" r="4.0" fill="none" stroke="#151515" stroke-width="1.25"/>
<circle cx="1808.3" cy="506.5" r="4.0" fill="none" stroke="#151515" stroke-width="1.25"/>
<circle cx="1808.3" cy="509.4" r="4.0" fill="none" stroke="#151515" stroke-width="1.25"/>
<circle cx="1808.3" cy="515.1" r="4.0" fill="none" stroke="#151515" stroke-width="1.25"/>
<circle cx="1808.3" cy="522.3" r="4.0" fill="none" stroke="#151515" stroke-width="1.25"/>
<circle cx="1808.3" cy="532.3" r="4.0" fill="none" stroke="#151515" stroke-width="1.25"/>
<circle cx="1808.3" cy="536.6" r="4.0" fill="none" stroke="#151515" stroke-width="1.25"/>
<circle cx="1808.3" cy="542.3" r="4.0" fill="none" stroke="#151515" stroke-width="1.25"/>
<circle cx="1808.3" cy="407.2" r="4.0" fill="none" stroke="#151515" stroke-width="1.25"/>
<circle cx="1808.3" cy="429.2" r="4.0" fill="none" stroke="#151515" stroke-width="1.25"/>
<line x1="1808.3" y1="487.1" x2="1808.3" y2="493.1" stroke="#222" stroke-width="1.5"/>
<line x1="1800.9" y1="487.1" x2="1815.7" y2="487.1" stroke="#111" stroke-width="1.6"/>
<line x1="1808.3" y1="532.3" x2="1808.3" y2="542.3" stroke="#222" stroke-width="1.5"/>
<line x1="1800.9" y1="542.3" x2="1815.7" y2="542.3" stroke="#111" stroke-width="1.6"/>
<rect x="1793.1" y="493.1" width="30.4" height="39.2" fill="#1e9292" fill-opacity="0.8" stroke="#0a2222" stroke-width="1.6"/>
<line x1="1793.1" y1="513.1" x2="1823.5" y2="513.1" stroke="#111" stroke-width="1.8"/>
<circle cx="1867.9" cy="227.8" r="4.0" fill="none" stroke="#151515" stroke-width="1.25"/>
<circle cx="1867.9" cy="286.7" r="4.0" fill="none" stroke="#151515" stroke-width="1.25"/>
<circle cx="1867.9" cy="342.2" r="4.0" fill="none" stroke="#151515" stroke-width="1.25"/>
<circle cx="1867.9" cy="401.2" r="4.0" fill="none" stroke="#151515" stroke-width="1.25"/>
<circle cx="1867.9" cy="437.3" r="4.0" fill="none" stroke="#151515" stroke-width="1.25"/>
<circle cx="1867.9" cy="457" r="4.0" fill="none" stroke="#151515" stroke-width="1.25"/>
<circle cx="1867.9" cy="479.3" r="4.0" fill="none" stroke="#151515" stroke-width="1.25"/>
<circle cx="1867.9" cy="500.8" r="4.0" fill="none" stroke="#151515" stroke-width="1.25"/>
<circle cx="1867.9" cy="505.1" r="4.0" fill="none" stroke="#151515" stroke-width="1.25"/>
<circle cx="1867.9" cy="512.2" r="4.0" fill="none" stroke="#151515" stroke-width="1.25"/>
<circle cx="1867.9" cy="516.5" r="4.0" fill="none" stroke="#151515" stroke-width="1.25"/>
<circle cx="1867.9" cy="530.8" r="4.0" fill="none" stroke="#151515" stroke-width="1.25"/>
<circle cx="1867.9" cy="539.4" r="4.0" fill="none" stroke="#151515" stroke-width="1.25"/>
<circle cx="1867.9" cy="76.3" r="4.0" fill="none" stroke="#151515" stroke-width="1.25"/>
<line x1="1867.9" y1="227.8" x2="1867.9" y2="372" stroke="#222" stroke-width="1.5"/>
<line x1="1860.5" y1="227.8" x2="1875.3" y2="227.8" stroke="#111" stroke-width="1.6"/>
<line x1="1867.9" y1="516" x2="1867.9" y2="539.4" stroke="#222" stroke-width="1.5"/>
<line x1="1860.5" y1="539.4" x2="1875.3" y2="539.4" stroke="#111" stroke-width="1.6"/>
<rect x="1852.7" y="372" width="30.4" height="144" fill="#ba3d3d" fill-opacity="0.8" stroke="#2e1212" stroke-width="1.6"/>
<line x1="1852.7" y1="490.2" x2="1883.1" y2="490.2" stroke="#111" stroke-width="1.8"/>
<circle cx="1907.9" cy="392.6" r="4.0" fill="none" stroke="#151515" stroke-width="1.25"/>
<circle cx="1907.9" cy="448.7" r="4.0" fill="none" stroke="#151515" stroke-width="1.25"/>
<circle cx="1907.9" cy="462.2" r="4.0" fill="none" stroke="#151515" stroke-width="1.25"/>
<circle cx="1907.9" cy="473.6" r="4.0" fill="none" stroke="#151515" stroke-width="1.25"/>
<circle cx="1907.9" cy="507.1" r="4.0" fill="none" stroke="#151515" stroke-width="1.25"/>
<circle cx="1907.9" cy="510.2" r="4.0" fill="none" stroke="#151515" stroke-width="1.25"/>
<circle cx="1907.9" cy="523.7" r="4.0" fill="none" stroke="#151515" stroke-width="1.25"/>
<circle cx="1907.9" cy="528" r="4.0" fill="none" stroke="#151515" stroke-width="1.25"/>
<circle cx="1907.9" cy="535.1" r="4.0" fill="none" stroke="#151515" stroke-width="1.25"/>
<circle cx="1907.9" cy="539.4" r="4.0" fill="none" stroke="#151515" stroke-width="1.25"/>
<circle cx="1907.9" cy="541.4" r="4.0" fill="none" stroke="#151515" stroke-width="1.25"/>
<circle cx="1907.9" cy="244.4" r="4.0" fill="none" stroke="#151515" stroke-width="1.25"/>
<line x1="1907.9" y1="392.6" x2="1907.9" y2="468.4" stroke="#222" stroke-width="1.5"/>
<line x1="1900.5" y1="392.6" x2="1915.3" y2="392.6" stroke="#111" stroke-width="1.6"/>
<line x1="1907.9" y1="528.8" x2="1907.9" y2="541.4" stroke="#222" stroke-width="1.5"/>
<line x1="1900.5" y1="541.4" x2="1915.3" y2="541.4" stroke="#111" stroke-width="1.6"/>
<rect x="1892.7" y="468.4" width="30.4" height="60.4" fill="#1e9292" fill-opacity="0.8" stroke="#0a2222" stroke-width="1.6"/>
<line x1="1892.7" y1="511.4" x2="1923.1" y2="511.4" stroke="#111" stroke-width="1.8"/>
<circle cx="1967.5" cy="454.1" r="4.0" fill="none" stroke="#151515" stroke-width="1.25"/>
<circle cx="1967.5" cy="457.9" r="4.0" fill="none" stroke="#151515" stroke-width="1.25"/>
<circle cx="1967.5" cy="469.3" r="4.0" fill="none" stroke="#151515" stroke-width="1.25"/>
<circle cx="1967.5" cy="477.9" r="4.0" fill="none" stroke="#151515" stroke-width="1.25"/>
<circle cx="1967.5" cy="483.6" r="4.0" fill="none" stroke="#151515" stroke-width="1.25"/>
<circle cx="1967.5" cy="492.2" r="4.0" fill="none" stroke="#151515" stroke-width="1.25"/>
<circle cx="1967.5" cy="497.9" r="4.0" fill="none" stroke="#151515" stroke-width="1.25"/>
<circle cx="1967.5" cy="507.4" r="4.0" fill="none" stroke="#151515" stroke-width="1.25"/>
<circle cx="1967.5" cy="528" r="4.0" fill="none" stroke="#151515" stroke-width="1.25"/>
<circle cx="1967.5" cy="539.4" r="4.0" fill="none" stroke="#151515" stroke-width="1.25"/>
<circle cx="1967.5" cy="541.4" r="4.0" fill="none" stroke="#151515" stroke-width="1.25"/>
<circle cx="1967.5" cy="244.4" r="4.0" fill="none" stroke="#151515" stroke-width="1.25"/>
<circle cx="1967.5" cy="401.2" r="4.0" fill="none" stroke="#151515" stroke-width="1.25"/>
<line x1="1967.5" y1="454.1" x2="1967.5" y2="469.9" stroke="#222" stroke-width="1.5"/>
<line x1="1960.1" y1="454.1" x2="1974.9" y2="454.1" stroke="#111" stroke-width="1.6"/>
<line x1="1967.5" y1="507.4" x2="1967.5" y2="541.4" stroke="#222" stroke-width="1.5"/>
<line x1="1960.1" y1="541.4" x2="1974.9" y2="541.4" stroke="#111" stroke-width="1.6"/>
<rect x="1952.3" y="469.9" width="30.4" height="37.5" fill="#ba3d3d" fill-opacity="0.8" stroke="#2e1212" stroke-width="1.6"/>
<line x1="1952.3" y1="491.3" x2="1982.7" y2="491.3" stroke="#111" stroke-width="1.8"/>
<circle cx="2007.5" cy="493.1" r="4.0" fill="none" stroke="#151515" stroke-width="1.25"/>
<circle cx="2007.5" cy="501.4" r="4.0" fill="none" stroke="#151515" stroke-width="1.25"/>
<circle cx="2007.5" cy="505.1" r="4.0" fill="none" stroke="#151515" stroke-width="1.25"/>
<circle cx="2007.5" cy="510.8" r="4.0" fill="none" stroke="#151515" stroke-width="1.25"/>
<circle cx="2007.5" cy="525.1" r="4.0" fill="none" stroke="#151515" stroke-width="1.25"/>
<circle cx="2007.5" cy="530.8" r="4.0" fill="none" stroke="#151515" stroke-width="1.25"/>
<circle cx="2007.5" cy="538" r="4.0" fill="none" stroke="#151515" stroke-width="1.25"/>
<circle cx="2007.5" cy="540.9" r="4.0" fill="none" stroke="#151515" stroke-width="1.25"/>
<circle cx="2007.5" cy="457.9" r="4.0" fill="none" stroke="#151515" stroke-width="1.25"/>
<line x1="2007.5" y1="493.1" x2="2007.5" y2="503.1" stroke="#222" stroke-width="1.5"/>
<line x1="2000.1" y1="493.1" x2="2014.9" y2="493.1" stroke="#111" stroke-width="1.6"/>
<line x1="2007.5" y1="531.7" x2="2007.5" y2="541.4" stroke="#222" stroke-width="1.5"/>
<line x1="2000.1" y1="541.4" x2="2014.9" y2="541.4" stroke="#111" stroke-width="1.6"/>
<rect x="1992.3" y="503.1" width="30.4" height="28.6" fill="#1e9292" fill-opacity="0.8" stroke="#0a2222" stroke-width="1.6"/>
<line x1="1992.3" y1="525.1" x2="2022.7" y2="525.1" stroke="#111" stroke-width="1.8"/>
<rect x="1609.8" y="15.8" width="457" height="529.9" fill="none" stroke="#111" stroke-width="1.8"/>
<line x1="1601.5" y1="545.3" x2="1609.8" y2="545.3" stroke="#111" stroke-width="1.6"/>
<text transform="translate(1596.1,550.6) scale(0.9,1)" text-anchor="end" class="tk">0</text>
<line x1="1601.5" y1="426" x2="1609.8" y2="426" stroke="#111" stroke-width="1.6"/>
<text transform="translate(1596.1,431.3) scale(0.9,1)" text-anchor="end" class="tk">10000</text>
<line x1="1601.5" y1="306.7" x2="1609.8" y2="306.7" stroke="#111" stroke-width="1.6"/>
<text transform="translate(1596.1,312) scale(0.9,1)" text-anchor="end" class="tk">20000</text>
<line x1="1601.5" y1="187.4" x2="1609.8" y2="187.4" stroke="#111" stroke-width="1.6"/>
<text transform="translate(1596.1,192.7) scale(0.9,1)" text-anchor="end" class="tk">30000</text>
<line x1="1601.5" y1="68.1" x2="1609.8" y2="68.1" stroke="#111" stroke-width="1.6"/>
<text transform="translate(1596.1,73.4) scale(0.9,1)" text-anchor="end" class="tk">40000</text>
<line x1="2066.8" y1="545.3" x2="2074.8" y2="545.3" stroke="#111" stroke-width="1.6"/>
<text transform="translate(2079.5,550.6) scale(0.9,1)" class="tk">0</text>
<line x1="2066.8" y1="404.7" x2="2074.8" y2="404.7" stroke="#111" stroke-width="1.6"/>
<text transform="translate(2079.5,410) scale(0.9,1)" class="tk">200000</text>
<line x1="2066.8" y1="264.1" x2="2074.8" y2="264.1" stroke="#111" stroke-width="1.6"/>
<text transform="translate(2079.5,269.4) scale(0.9,1)" class="tk">400000</text>
<line x1="2066.8" y1="123.5" x2="2074.8" y2="123.5" stroke="#111" stroke-width="1.6"/>
<text transform="translate(2079.5,128.8) scale(0.9,1)" class="tk">600000</text>
<line x1="1688.1" y1="545.7" x2="1688.1" y2="552.5" stroke="#111" stroke-width="1.6"/>
<text transform="translate(1688.1,572) scale(0.9,1)" text-anchor="middle" class="tk">Q1</text>
<line x1="1787.7" y1="545.7" x2="1787.7" y2="552.5" stroke="#111" stroke-width="1.6"/>
<text transform="translate(1787.7,572) scale(0.9,1)" text-anchor="middle" class="tk">Q2</text>
<line x1="1887.3" y1="545.7" x2="1887.3" y2="552.5" stroke="#111" stroke-width="1.6"/>
<text transform="translate(1887.3,572) scale(0.9,1)" text-anchor="middle" class="tk">Q3</text>
<line x1="1986.9" y1="545.7" x2="1986.9" y2="552.5" stroke="#111" stroke-width="1.6"/>
<text transform="translate(1986.9,572) scale(0.9,1)" text-anchor="middle" class="tk">Q4</text>
<text transform="translate(1533.8,280.6) rotate(-90) scale(0.99,1)" text-anchor="middle" class="al" fill="#9e2026" >Cmax in Cycle 1 (copies/μg gDNA)</text>
<text transform="translate(2162.3,280.2) rotate(-90) scale(0.993,1)" text-anchor="middle" class="al" fill="#107470" >AUC to Last Nonzero Conc in Cycle 1 (day*copies/μg gDNA)</text>
<text transform="translate(1637.6,37.6) scale(0.86,1)" class="sp" fill="#9e2026" stroke="#9e2026">Spearman's correlation=-0.141 P=0.285 N=59</text>
<text transform="translate(1637.6,55.6) scale(0.86,1)" class="sp" fill="#107470" stroke="#107470">Spearman's correlation=-0.241 P=0.066 N=59</text>
<text transform="translate(1838.3,602.1)" text-anchor="middle" class="xl">CD45RA<tspan class="sup" dy="-5.6">+</tspan><tspan dy="5.6"> /CCR7</tspan><tspan class="sup" dy="-5.6">+</tspan><tspan dy="5.6"> T cells(%)</tspan></text>
<text x="1505.5" y="27" class="lt">c</text>
<circle cx="166.2" cy="1038.2" r="4.0" fill="none" stroke="#151515" stroke-width="1.25"/>
<circle cx="166.2" cy="1077.1" r="4.0" fill="none" stroke="#151515" stroke-width="1.25"/>
<circle cx="166.2" cy="1113.5" r="4.0" fill="none" stroke="#151515" stroke-width="1.25"/>
<circle cx="166.2" cy="1122.9" r="4.0" fill="none" stroke="#151515" stroke-width="1.25"/>
<circle cx="166.2" cy="1127.8" r="4.0" fill="none" stroke="#151515" stroke-width="1.25"/>
<circle cx="166.2" cy="1137.2" r="4.0" fill="none" stroke="#151515" stroke-width="1.25"/>
<circle cx="166.2" cy="1142.1" r="4.0" fill="none" stroke="#151515" stroke-width="1.25"/>
<circle cx="166.2" cy="1146.4" r="4.0" fill="none" stroke="#151515" stroke-width="1.25"/>
<circle cx="166.2" cy="1157.8" r="4.0" fill="none" stroke="#151515" stroke-width="1.25"/>
<circle cx="166.2" cy="1163.5" r="4.0" fill="none" stroke="#151515" stroke-width="1.25"/>
<circle cx="166.2" cy="1165" r="4.0" fill="none" stroke="#151515" stroke-width="1.25"/>
<circle cx="166.2" cy="1177.3" r="4.0" fill="none" stroke="#151515" stroke-width="1.25"/>
<circle cx="166.2" cy="907.4" r="4.0" fill="none" stroke="#151515" stroke-width="1.25"/>
<circle cx="166.2" cy="929.4" r="4.0" fill="none" stroke="#151515" stroke-width="1.25"/>
<line x1="166.2" y1="1038.2" x2="166.2" y2="1077.7" stroke="#222" stroke-width="1.5"/>
<line x1="158.8" y1="1038.2" x2="173.6" y2="1038.2" stroke="#111" stroke-width="1.6"/>
<line x1="166.2" y1="1158.7" x2="166.2" y2="1177.3" stroke="#222" stroke-width="1.5"/>
<line x1="158.8" y1="1177.3" x2="173.6" y2="1177.3" stroke="#111" stroke-width="1.6"/>
<rect x="151" y="1077.7" width="30.4" height="81" fill="#ba3d3d" fill-opacity="0.8" stroke="#2e1212" stroke-width="1.6"/>
<line x1="151" y1="1137.2" x2="181.4" y2="1137.2" stroke="#111" stroke-width="1.8"/>
<circle cx="206.2" cy="1095.4" r="4.0" fill="none" stroke="#151515" stroke-width="1.25"/>
<circle cx="206.2" cy="1110.6" r="4.0" fill="none" stroke="#151515" stroke-width="1.25"/>
<circle cx="206.2" cy="1114.9" r="4.0" fill="none" stroke="#151515" stroke-width="1.25"/>
<circle cx="206.2" cy="1144.9" r="4.0" fill="none" stroke="#151515" stroke-width="1.25"/>
<circle cx="206.2" cy="1153.5" r="4.0" fill="none" stroke="#151515" stroke-width="1.25"/>
<circle cx="206.2" cy="1157.8" r="4.0" fill="none" stroke="#151515" stroke-width="1.25"/>
<circle cx="206.2" cy="1160.7" r="4.0" fill="none" stroke="#151515" stroke-width="1.25"/>
<circle cx="206.2" cy="1163.5" r="4.0" fill="none" stroke="#151515" stroke-width="1.25"/>
<circle cx="206.2" cy="1169.3" r="4.0" fill="none" stroke="#151515" stroke-width="1.25"/>
<circle cx="206.2" cy="1179.3" r="4.0" fill="none" stroke="#151515" stroke-width="1.25"/>
<circle cx="206.2" cy="705.9" r="4.0" fill="none" stroke="#151515" stroke-width="1.25"/>
<line x1="206.2" y1="1095.4" x2="206.2" y2="1115.8" stroke="#222" stroke-width="1.5"/>
<line x1="198.8" y1="1095.4" x2="213.6" y2="1095.4" stroke="#111" stroke-width="1.6"/>
<line x1="206.2" y1="1163.5" x2="206.2" y2="1179.3" stroke="#222" stroke-width="1.5"/>
<line x1="198.8" y1="1179.3" x2="213.6" y2="1179.3" stroke="#111" stroke-width="1.6"/>
<rect x="191" y="1115.8" width="30.4" height="47.8" fill="#1e9292" fill-opacity="0.8" stroke="#0a2222" stroke-width="1.6"/>
<line x1="191" y1="1156.4" x2="221.4" y2="1156.4" stroke="#111" stroke-width="1.8"/>
<circle cx="265.8" cy="1070.5" r="4.0" fill="none" stroke="#151515" stroke-width="1.25"/>
<circle cx="265.8" cy="1116.9" r="4.0" fill="none" stroke="#151515" stroke-width="1.25"/>
<circle cx="265.8" cy="1133.5" r="4.0" fill="none" stroke="#151515" stroke-width="1.25"/>
<circle cx="265.8" cy="1152.7" r="4.0" fill="none" stroke="#151515" stroke-width="1.25"/>
<circle cx="265.8" cy="1165" r="4.0" fill="none" stroke="#151515" stroke-width="1.25"/>
<circle cx="265.8" cy="1167" r="4.0" fill="none" stroke="#151515" stroke-width="1.25"/>
<circle cx="265.8" cy="1176.4" r="4.0" fill="none" stroke="#151515" stroke-width="1.25"/>
<circle cx="265.8" cy="1179.3" r="4.0" fill="none" stroke="#151515" stroke-width="1.25"/>
<circle cx="265.8" cy="845.9" r="4.0" fill="none" stroke="#151515" stroke-width="1.25"/>
<circle cx="265.8" cy="881.9" r="4.0" fill="none" stroke="#151515" stroke-width="1.25"/>
<line x1="265.8" y1="1070.5" x2="265.8" y2="1117.2" stroke="#222" stroke-width="1.5"/>
<line x1="258.4" y1="1070.5" x2="273.2" y2="1070.5" stroke="#111" stroke-width="1.6"/>
<line x1="265.8" y1="1168.4" x2="265.8" y2="1179.3" stroke="#222" stroke-width="1.5"/>
<line x1="258.4" y1="1179.3" x2="273.2" y2="1179.3" stroke="#111" stroke-width="1.6"/>
<rect x="250.6" y="1117.2" width="30.4" height="51.2" fill="#ba3d3d" fill-opacity="0.8" stroke="#2e1212" stroke-width="1.6"/>
<line x1="250.6" y1="1150.1" x2="281" y2="1150.1" stroke="#111" stroke-width="1.8"/>
<circle cx="305.8" cy="1095.4" r="4.0" fill="none" stroke="#151515" stroke-width="1.25"/>
<circle cx="305.8" cy="1125.5" r="4.0" fill="none" stroke="#151515" stroke-width="1.25"/>
<circle cx="305.8" cy="1130.6" r="4.0" fill="none" stroke="#151515" stroke-width="1.25"/>
<circle cx="305.8" cy="1146.4" r="4.0" fill="none" stroke="#151515" stroke-width="1.25"/>
<circle cx="305.8" cy="1150.7" r="4.0" fill="none" stroke="#151515" stroke-width="1.25"/>
<circle cx="305.8" cy="1155" r="4.0" fill="none" stroke="#151515" stroke-width="1.25"/>
<circle cx="305.8" cy="1160.7" r="4.0" fill="none" stroke="#151515" stroke-width="1.25"/>
<circle cx="305.8" cy="1175" r="4.0" fill="none" stroke="#151515" stroke-width="1.25"/>
<circle cx="305.8" cy="1177.9" r="4.0" fill="none" stroke="#151515" stroke-width="1.25"/>
<circle cx="305.8" cy="1179.3" r="4.0" fill="none" stroke="#151515" stroke-width="1.25"/>
<circle cx="305.8" cy="1021.3" r="4.0" fill="none" stroke="#151515" stroke-width="1.25"/>
<line x1="305.8" y1="1095.4" x2="305.8" y2="1130.6" stroke="#222" stroke-width="1.5"/>
<line x1="298.4" y1="1095.4" x2="313.2" y2="1095.4" stroke="#111" stroke-width="1.6"/>
<line x1="305.8" y1="1177.3" x2="305.8" y2="1179.3" stroke="#222" stroke-width="1.5"/>
<line x1="298.4" y1="1179.3" x2="313.2" y2="1179.3" stroke="#111" stroke-width="1.6"/>
<rect x="290.6" y="1130.6" width="30.4" height="46.7" fill="#1e9292" fill-opacity="0.8" stroke="#0a2222" stroke-width="1.6"/>
<line x1="290.6" y1="1158.7" x2="321" y2="1158.7" stroke="#111" stroke-width="1.8"/>
<circle cx="365.4" cy="890.2" r="4.0" fill="none" stroke="#151515" stroke-width="1.25"/>
<circle cx="365.4" cy="1034.8" r="4.0" fill="none" stroke="#151515" stroke-width="1.25"/>
<circle cx="365.4" cy="1044.8" r="4.0" fill="none" stroke="#151515" stroke-width="1.25"/>
<circle cx="365.4" cy="1090.6" r="4.0" fill="none" stroke="#151515" stroke-width="1.25"/>
<circle cx="365.4" cy="1093.4" r="4.0" fill="none" stroke="#151515" stroke-width="1.25"/>
<circle cx="365.4" cy="1122" r="4.0" fill="none" stroke="#151515" stroke-width="1.25"/>
<circle cx="365.4" cy="1132.1" r="4.0" fill="none" stroke="#151515" stroke-width="1.25"/>
<circle cx="365.4" cy="1137.8" r="4.0" fill="none" stroke="#151515" stroke-width="1.25"/>
<circle cx="365.4" cy="1145.5" r="4.0" fill="none" stroke="#151515" stroke-width="1.25"/>
<circle cx="365.4" cy="1153.5" r="4.0" fill="none" stroke="#151515" stroke-width="1.25"/>
<circle cx="365.4" cy="1160.7" r="4.0" fill="none" stroke="#151515" stroke-width="1.25"/>
<circle cx="365.4" cy="1167.8" r="4.0" fill="none" stroke="#151515" stroke-width="1.25"/>
<circle cx="365.4" cy="1174.1" r="4.0" fill="none" stroke="#151515" stroke-width="1.25"/>
<circle cx="365.4" cy="755.7" r="4.0" fill="none" stroke="#151515" stroke-width="1.25"/>
<line x1="365.4" y1="890.2" x2="365.4" y2="1038.5" stroke="#222" stroke-width="1.5"/>
<line x1="358" y1="890.2" x2="372.8" y2="890.2" stroke="#111" stroke-width="1.6"/>
<line x1="365.4" y1="1154.4" x2="365.4" y2="1173.6" stroke="#222" stroke-width="1.5"/>
<line x1="358" y1="1173.6" x2="372.8" y2="1173.6" stroke="#111" stroke-width="1.6"/>
<rect x="350.2" y="1038.5" width="30.4" height="115.9" fill="#ba3d3d" fill-opacity="0.8" stroke="#2e1212" stroke-width="1.6"/>
<line x1="350.2" y1="1122" x2="380.6" y2="1122" stroke="#111" stroke-width="1.8"/>
<circle cx="405.4" cy="1137.8" r="4.0" fill="none" stroke="#151515" stroke-width="1.25"/>
<circle cx="405.4" cy="1142.1" r="4.0" fill="none" stroke="#151515" stroke-width="1.25"/>
<circle cx="405.4" cy="1149.2" r="4.0" fill="none" stroke="#151515" stroke-width="1.25"/>
<circle cx="405.4" cy="1163.5" r="4.0" fill="none" stroke="#151515" stroke-width="1.25"/>
<circle cx="405.4" cy="1167" r="4.0" fill="none" stroke="#151515" stroke-width="1.25"/>
<circle cx="405.4" cy="1170.7" r="4.0" fill="none" stroke="#151515" stroke-width="1.25"/>
<circle cx="405.4" cy="1175" r="4.0" fill="none" stroke="#151515" stroke-width="1.25"/>
<circle cx="405.4" cy="1178.4" r="4.0" fill="none" stroke="#151515" stroke-width="1.25"/>
<circle cx="405.4" cy="1180.1" r="4.0" fill="none" stroke="#151515" stroke-width="1.25"/>
<circle cx="405.4" cy="963.2" r="4.0" fill="none" stroke="#151515" stroke-width="1.25"/>
<circle cx="405.4" cy="1045.3" r="4.0" fill="none" stroke="#151515" stroke-width="1.25"/>
<circle cx="405.4" cy="1062.5" r="4.0" fill="none" stroke="#151515" stroke-width="1.25"/>
<line x1="405.4" y1="1169.3" x2="405.4" y2="1179.3" stroke="#222" stroke-width="1.5"/>
<line x1="398" y1="1179.3" x2="412.8" y2="1179.3" stroke="#111" stroke-width="1.6"/>
<rect x="390.2" y="1138.4" width="30.4" height="30.9" fill="#1e9292" fill-opacity="0.8" stroke="#0a2222" stroke-width="1.6"/>
<line x1="390.2" y1="1149.2" x2="420.6" y2="1149.2" stroke="#111" stroke-width="1.8"/>
<circle cx="465" cy="714.2" r="4.0" fill="none" stroke="#151515" stroke-width="1.25"/>
<circle cx="465" cy="724.2" r="4.0" fill="none" stroke="#151515" stroke-width="1.25"/>
<circle cx="465" cy="865.3" r="4.0" fill="none" stroke="#151515" stroke-width="1.25"/>
<circle cx="465" cy="924.6" r="4.0" fill="none" stroke="#151515" stroke-width="1.25"/>
<circle cx="465" cy="957.5" r="4.0" fill="none" stroke="#151515" stroke-width="1.25"/>
<circle cx="465" cy="979.8" r="4.0" fill="none" stroke="#151515" stroke-width="1.25"/>
<circle cx="465" cy="1074.8" r="4.0" fill="none" stroke="#151515" stroke-width="1.25"/>
<circle cx="465" cy="1107.7" r="4.0" fill="none" stroke="#151515" stroke-width="1.25"/>
<circle cx="465" cy="1114.9" r="4.0" fill="none" stroke="#151515" stroke-width="1.25"/>
<circle cx="465" cy="1122" r="4.0" fill="none" stroke="#151515" stroke-width="1.25"/>
<circle cx="465" cy="1129.2" r="4.0" fill="none" stroke="#151515" stroke-width="1.25"/>
<circle cx="465" cy="1152.1" r="4.0" fill="none" stroke="#151515" stroke-width="1.25"/>
<circle cx="465" cy="1153.5" r="4.0" fill="none" stroke="#151515" stroke-width="1.25"/>
<line x1="465" y1="714.2" x2="465" y2="924.6" stroke="#222" stroke-width="1.5"/>
<line x1="457.6" y1="714.2" x2="472.4" y2="714.2" stroke="#111" stroke-width="1.6"/>
<line x1="465" y1="1126.3" x2="465" y2="1152.7" stroke="#222" stroke-width="1.5"/>
<line x1="457.6" y1="1152.7" x2="472.4" y2="1152.7" stroke="#111" stroke-width="1.6"/>
<rect x="449.8" y="924.6" width="30.4" height="201.8" fill="#ba3d3d" fill-opacity="0.8" stroke="#2e1212" stroke-width="1.6"/>
<line x1="449.8" y1="1090.6" x2="480.2" y2="1090.6" stroke="#111" stroke-width="1.8"/>
<circle cx="505" cy="1018.2" r="4.0" fill="none" stroke="#151515" stroke-width="1.25"/>
<circle cx="505" cy="1030.5" r="4.0" fill="none" stroke="#151515" stroke-width="1.25"/>
<circle cx="505" cy="1066.8" r="4.0" fill="none" stroke="#151515" stroke-width="1.25"/>
<circle cx="505" cy="1086.3" r="4.0" fill="none" stroke="#151515" stroke-width="1.25"/>
<circle cx="505" cy="1099.7" r="4.0" fill="none" stroke="#151515" stroke-width="1.25"/>
<circle cx="505" cy="1130.6" r="4.0" fill="none" stroke="#151515" stroke-width="1.25"/>
<circle cx="505" cy="1137.8" r="4.0" fill="none" stroke="#151515" stroke-width="1.25"/>
<circle cx="505" cy="1144.9" r="4.0" fill="none" stroke="#151515" stroke-width="1.25"/>
<circle cx="505" cy="1150.7" r="4.0" fill="none" stroke="#151515" stroke-width="1.25"/>
<circle cx="505" cy="1169.3" r="4.0" fill="none" stroke="#151515" stroke-width="1.25"/>
<circle cx="505" cy="881.9" r="4.0" fill="none" stroke="#151515" stroke-width="1.25"/>
<line x1="505" y1="1018.2" x2="505" y2="1066.8" stroke="#222" stroke-width="1.5"/>
<line x1="497.6" y1="1018.2" x2="512.4" y2="1018.2" stroke="#111" stroke-width="1.6"/>
<line x1="505" y1="1148.7" x2="505" y2="1169.3" stroke="#222" stroke-width="1.5"/>
<line x1="497.6" y1="1169.3" x2="512.4" y2="1169.3" stroke="#111" stroke-width="1.6"/>
<rect x="489.8" y="1066.8" width="30.4" height="81.9" fill="#1e9292" fill-opacity="0.8" stroke="#0a2222" stroke-width="1.6"/>
<line x1="489.8" y1="1134.4" x2="520.2" y2="1134.4" stroke="#111" stroke-width="1.8"/>
<rect x="107.3" y="653.1" width="457" height="529.9" fill="none" stroke="#111" stroke-width="1.8"/>
<line x1="99" y1="1182.6" x2="107.3" y2="1182.6" stroke="#111" stroke-width="1.6"/>
<text transform="translate(93.6,1187.9) scale(0.9,1)" text-anchor="end" class="tk">0</text>
<line x1="99" y1="1063.3" x2="107.3" y2="1063.3" stroke="#111" stroke-width="1.6"/>
<text transform="translate(93.6,1068.6) scale(0.9,1)" text-anchor="end" class="tk">10000</text>
<line x1="99" y1="944" x2="107.3" y2="944" stroke="#111" stroke-width="1.6"/>
<text transform="translate(93.6,949.3) scale(0.9,1)" text-anchor="end" class="tk">20000</text>
<line x1="99" y1="824.7" x2="107.3" y2="824.7" stroke="#111" stroke-width="1.6"/>
<text transform="translate(93.6,830) scale(0.9,1)" text-anchor="end" class="tk">30000</text>
<line x1="99" y1="705.4" x2="107.3" y2="705.4" stroke="#111" stroke-width="1.6"/>
<text transform="translate(93.6,710.7) scale(0.9,1)" text-anchor="end" class="tk">40000</text>
<line x1="564.3" y1="1182.6" x2="572.3" y2="1182.6" stroke="#111" stroke-width="1.6"/>
<text transform="translate(577,1187.9) scale(0.9,1)" class="tk">0</text>
<line x1="564.3" y1="1042" x2="572.3" y2="1042" stroke="#111" stroke-width="1.6"/>
<text transform="translate(577,1047.3) scale(0.9,1)" class="tk">200000</text>
<line x1="564.3" y1="901.4" x2="572.3" y2="901.4" stroke="#111" stroke-width="1.6"/>
<text transform="translate(577,906.7) scale(0.9,1)" class="tk">400000</text>
<line x1="564.3" y1="760.8" x2="572.3" y2="760.8" stroke="#111" stroke-width="1.6"/>
<text transform="translate(577,766.1) scale(0.9,1)" class="tk">600000</text>
<line x1="185.6" y1="1183" x2="185.6" y2="1189.8" stroke="#111" stroke-width="1.6"/>
<text transform="translate(185.6,1209.3) scale(0.9,1)" text-anchor="middle" class="tk">Q1</text>
<line x1="285.2" y1="1183" x2="285.2" y2="1189.8" stroke="#111" stroke-width="1.6"/>
<text transform="translate(285.2,1209.3) scale(0.9,1)" text-anchor="middle" class="tk">Q2</text>
<line x1="384.8" y1="1183" x2="384.8" y2="1189.8" stroke="#111" stroke-width="1.6"/>
<text transform="translate(384.8,1209.3) scale(0.9,1)" text-anchor="middle" class="tk">Q3</text>
<line x1="484.4" y1="1183" x2="484.4" y2="1189.8" stroke="#111" stroke-width="1.6"/>
<text transform="translate(484.4,1209.3) scale(0.9,1)" text-anchor="middle" class="tk">Q4</text>
<text transform="translate(31.3,917.9) rotate(-90) scale(0.99,1)" text-anchor="middle" class="al" fill="#9e2026" >Cmax in Cycle 1 (copies/μg gDNA)</text>
<text transform="translate(659.8,917.5) rotate(-90) scale(0.993,1)" text-anchor="middle" class="al" fill="#107470" >AUC to Last Nonzero Conc in Cycle 1 (day*copies/μg gDNA)</text>
<text transform="translate(135.1,674.9) scale(0.86,1)" class="sp" fill="#9e2026" stroke="#9e2026">Spearman's correlation=0.287 P=0.027 N=59</text>
<text transform="translate(135.1,692.9) scale(0.86,1)" class="sp" fill="#107470" stroke="#107470">Spearman's correlation=0.228 P=0.083 N=59</text>
<text transform="translate(335.8,1239.4)" text-anchor="middle" class="xl">CD45RA<tspan class="sup" dy="-5.6">−</tspan><tspan dy="5.6"> /CCR7</tspan><tspan class="sup" dy="-5.6">+</tspan><tspan dy="5.6"> T cells(%)</tspan></text>
<text x="1" y="672.1" class="lt">d</text>
<circle cx="916.1" cy="864.8" r="4.0" fill="none" stroke="#151515" stroke-width="1.25"/>
<circle cx="916.1" cy="881.4" r="4.0" fill="none" stroke="#151515" stroke-width="1.25"/>
<circle cx="916.1" cy="923.7" r="4.0" fill="none" stroke="#151515" stroke-width="1.25"/>
<circle cx="916.1" cy="1038.2" r="4.0" fill="none" stroke="#151515" stroke-width="1.25"/>
<circle cx="916.1" cy="1091.1" r="4.0" fill="none" stroke="#151515" stroke-width="1.25"/>
<circle cx="916.1" cy="1122" r="4.0" fill="none" stroke="#151515" stroke-width="1.25"/>
<circle cx="916.1" cy="1129.2" r="4.0" fill="none" stroke="#151515" stroke-width="1.25"/>
<circle cx="916.1" cy="1136.4" r="4.0" fill="none" stroke="#151515" stroke-width="1.25"/>
<circle cx="916.1" cy="1144.4" r="4.0" fill="none" stroke="#151515" stroke-width="1.25"/>
<circle cx="916.1" cy="1165" r="4.0" fill="none" stroke="#151515" stroke-width="1.25"/>
<circle cx="916.1" cy="1170.7" r="4.0" fill="none" stroke="#151515" stroke-width="1.25"/>
<circle cx="916.1" cy="1176.4" r="4.0" fill="none" stroke="#151515" stroke-width="1.25"/>
<circle cx="916.1" cy="1178.4" r="4.0" fill="none" stroke="#151515" stroke-width="1.25"/>
<line x1="916.1" y1="864.8" x2="916.1" y2="1038.2" stroke="#222" stroke-width="1.5"/>
<line x1="908.7" y1="864.8" x2="923.5" y2="864.8" stroke="#111" stroke-width="1.6"/>
<line x1="916.1" y1="1167.8" x2="916.1" y2="1178.4" stroke="#222" stroke-width="1.5"/>
<line x1="908.7" y1="1178.4" x2="923.5" y2="1178.4" stroke="#111" stroke-width="1.6"/>
<rect x="900.9" y="1038.2" width="30.4" height="129.7" fill="#ba3d3d" fill-opacity="0.8" stroke="#2e1212" stroke-width="1.6"/>
<line x1="900.9" y1="1132.9" x2="931.3" y2="1132.9" stroke="#111" stroke-width="1.8"/>
<circle cx="956.1" cy="1085.7" r="4.0" fill="none" stroke="#151515" stroke-width="1.25"/>
<circle cx="956.1" cy="1094.9" r="4.0" fill="none" stroke="#151515" stroke-width="1.25"/>
<circle cx="956.1" cy="1138.4" r="4.0" fill="none" stroke="#151515" stroke-width="1.25"/>
<circle cx="956.1" cy="1148.7" r="4.0" fill="none" stroke="#151515" stroke-width="1.25"/>
<circle cx="956.1" cy="1162.7" r="4.0" fill="none" stroke="#151515" stroke-width="1.25"/>
<circle cx="956.1" cy="1168.7" r="4.0" fill="none" stroke="#151515" stroke-width="1.25"/>
<circle cx="956.1" cy="1175" r="4.0" fill="none" stroke="#151515" stroke-width="1.25"/>
<circle cx="956.1" cy="1178.4" r="4.0" fill="none" stroke="#151515" stroke-width="1.25"/>
<circle cx="956.1" cy="1029.6" r="4.0" fill="none" stroke="#151515" stroke-width="1.25"/>
<line x1="956.1" y1="1085.7" x2="956.1" y2="1137.8" stroke="#222" stroke-width="1.5"/>
<line x1="948.7" y1="1085.7" x2="963.5" y2="1085.7" stroke="#111" stroke-width="1.6"/>
<line x1="956.1" y1="1175" x2="956.1" y2="1178.4" stroke="#222" stroke-width="1.5"/>
<line x1="948.7" y1="1178.4" x2="963.5" y2="1178.4" stroke="#111" stroke-width="1.6"/>
<rect x="940.9" y="1137.8" width="30.4" height="37.2" fill="#1e9292" fill-opacity="0.8" stroke="#0a2222" stroke-width="1.6"/>
<line x1="940.9" y1="1162.7" x2="971.3" y2="1162.7" stroke="#111" stroke-width="1.8"/>
<circle cx="1015.7" cy="979.2" r="4.0" fill="none" stroke="#151515" stroke-width="1.25"/>
<circle cx="1015.7" cy="1038.2" r="4.0" fill="none" stroke="#151515" stroke-width="1.25"/>
<circle cx="1015.7" cy="1074.3" r="4.0" fill="none" stroke="#151515" stroke-width="1.25"/>
<circle cx="1015.7" cy="1106.3" r="4.0" fill="none" stroke="#151515" stroke-width="1.25"/>
<circle cx="1015.7" cy="1114.9" r="4.0" fill="none" stroke="#151515" stroke-width="1.25"/>
<circle cx="1015.7" cy="1119.2" r="4.0" fill="none" stroke="#151515" stroke-width="1.25"/>
<circle cx="1015.7" cy="1140.7" r="4.0" fill="none" stroke="#151515" stroke-width="1.25"/>
<circle cx="1015.7" cy="1146.4" r="4.0" fill="none" stroke="#151515" stroke-width="1.25"/>
<circle cx="1015.7" cy="1153.5" r="4.0" fill="none" stroke="#151515" stroke-width="1.25"/>
<circle cx="1015.7" cy="1160.7" r="4.0" fill="none" stroke="#151515" stroke-width="1.25"/>
<circle cx="1015.7" cy="1165" r="4.0" fill="none" stroke="#151515" stroke-width="1.25"/>
<circle cx="1015.7" cy="1169.3" r="4.0" fill="none" stroke="#151515" stroke-width="1.25"/>
<circle cx="1015.7" cy="1177.3" r="4.0" fill="none" stroke="#151515" stroke-width="1.25"/>
<circle cx="1015.7" cy="713.3" r="4.0" fill="none" stroke="#151515" stroke-width="1.25"/>
<line x1="1015.7" y1="979.2" x2="1015.7" y2="1074.3" stroke="#222" stroke-width="1.5"/>
<line x1="1008.3" y1="979.2" x2="1023.1" y2="979.2" stroke="#111" stroke-width="1.6"/>
<line x1="1015.7" y1="1154.1" x2="1015.7" y2="1177.3" stroke="#222" stroke-width="1.5"/>
<line x1="1008.3" y1="1177.3" x2="1023.1" y2="1177.3" stroke="#111" stroke-width="1.6"/>
<rect x="1000.5" y="1074.3" width="30.4" height="79.9" fill="#ba3d3d" fill-opacity="0.8" stroke="#2e1212" stroke-width="1.6"/>
<line x1="1000.5" y1="1141.2" x2="1030.9" y2="1141.2" stroke="#111" stroke-width="1.8"/>
<circle cx="1055.7" cy="1099.2" r="4.0" fill="none" stroke="#151515" stroke-width="1.25"/>
<circle cx="1055.7" cy="1110.6" r="4.0" fill="none" stroke="#151515" stroke-width="1.25"/>
<circle cx="1055.7" cy="1130.1" r="4.0" fill="none" stroke="#151515" stroke-width="1.25"/>
<circle cx="1055.7" cy="1145.5" r="4.0" fill="none" stroke="#151515" stroke-width="1.25"/>
<circle cx="1055.7" cy="1152.1" r="4.0" fill="none" stroke="#151515" stroke-width="1.25"/>
<circle cx="1055.7" cy="1160.7" r="4.0" fill="none" stroke="#151515" stroke-width="1.25"/>
<circle cx="1055.7" cy="1163.5" r="4.0" fill="none" stroke="#151515" stroke-width="1.25"/>
<circle cx="1055.7" cy="1168.7" r="4.0" fill="none" stroke="#151515" stroke-width="1.25"/>
<circle cx="1055.7" cy="1176.4" r="4.0" fill="none" stroke="#151515" stroke-width="1.25"/>
<circle cx="1055.7" cy="1178.4" r="4.0" fill="none" stroke="#151515" stroke-width="1.25"/>
<circle cx="1055.7" cy="881.4" r="4.0" fill="none" stroke="#151515" stroke-width="1.25"/>
<line x1="1055.7" y1="1099.2" x2="1055.7" y2="1130.1" stroke="#222" stroke-width="1.5"/>
<line x1="1048.3" y1="1099.2" x2="1063.1" y2="1099.2" stroke="#111" stroke-width="1.6"/>
<line x1="1055.7" y1="1166.4" x2="1055.7" y2="1178.4" stroke="#222" stroke-width="1.5"/>
<line x1="1048.3" y1="1178.4" x2="1063.1" y2="1178.4" stroke="#111" stroke-width="1.6"/>
<rect x="1040.5" y="1130.1" width="30.4" height="36.3" fill="#1e9292" fill-opacity="0.8" stroke="#0a2222" stroke-width="1.6"/>
<line x1="1040.5" y1="1149.2" x2="1070.9" y2="1149.2" stroke="#111" stroke-width="1.8"/>
<circle cx="1115.3" cy="1070.5" r="4.0" fill="none" stroke="#151515" stroke-width="1.25"/>
<circle cx="1115.3" cy="1077.1" r="4.0" fill="none" stroke="#151515" stroke-width="1.25"/>
<circle cx="1115.3" cy="1094" r="4.0" fill="none" stroke="#151515" stroke-width="1.25"/>
<circle cx="1115.3" cy="1112" r="4.0" fill="none" stroke="#151515" stroke-width="1.25"/>
<circle cx="1115.3" cy="1116.3" r="4.0" fill="none" stroke="#151515" stroke-width="1.25"/>
<circle cx="1115.3" cy="1119.2" r="4.0" fill="none" stroke="#151515" stroke-width="1.25"/>
<circle cx="1115.3" cy="1126.3" r="4.0" fill="none" stroke="#151515" stroke-width="1.25"/>
<circle cx="1115.3" cy="1137.2" r="4.0" fill="none" stroke="#151515" stroke-width="1.25"/>
<circle cx="1115.3" cy="1150.7" r="4.0" fill="none" stroke="#151515" stroke-width="1.25"/>
<circle cx="1115.3" cy="1153.5" r="4.0" fill="none" stroke="#151515" stroke-width="1.25"/>
<circle cx="1115.3" cy="1160.7" r="4.0" fill="none" stroke="#151515" stroke-width="1.25"/>
<circle cx="1115.3" cy="1173.6" r="4.0" fill="none" stroke="#151515" stroke-width="1.25"/>
<circle cx="1115.3" cy="956.9" r="4.0" fill="none" stroke="#151515" stroke-width="1.25"/>
<line x1="1115.3" y1="1070.5" x2="1115.3" y2="1094" stroke="#222" stroke-width="1.5"/>
<line x1="1107.9" y1="1070.5" x2="1122.7" y2="1070.5" stroke="#111" stroke-width="1.6"/>
<line x1="1115.3" y1="1150.7" x2="1115.3" y2="1173.6" stroke="#222" stroke-width="1.5"/>
<line x1="1107.9" y1="1173.6" x2="1122.7" y2="1173.6" stroke="#111" stroke-width="1.6"/>
<rect x="1100.1" y="1094" width="30.4" height="56.7" fill="#ba3d3d" fill-opacity="0.8" stroke="#2e1212" stroke-width="1.6"/>
<line x1="1100.1" y1="1118.3" x2="1130.5" y2="1118.3" stroke="#111" stroke-width="1.8"/>
<circle cx="1155.3" cy="1114.9" r="4.0" fill="none" stroke="#151515" stroke-width="1.25"/>
<circle cx="1155.3" cy="1124.9" r="4.0" fill="none" stroke="#151515" stroke-width="1.25"/>
<circle cx="1155.3" cy="1136.9" r="4.0" fill="none" stroke="#151515" stroke-width="1.25"/>
<circle cx="1155.3" cy="1144.9" r="4.0" fill="none" stroke="#151515" stroke-width="1.25"/>
<circle cx="1155.3" cy="1147.8" r="4.0" fill="none" stroke="#151515" stroke-width="1.25"/>
<circle cx="1155.3" cy="1152.1" r="4.0" fill="none" stroke="#151515" stroke-width="1.25"/>
<circle cx="1155.3" cy="1155" r="4.0" fill="none" stroke="#151515" stroke-width="1.25"/>
<circle cx="1155.3" cy="1160.7" r="4.0" fill="none" stroke="#151515" stroke-width="1.25"/>
<circle cx="1155.3" cy="1168.7" r="4.0" fill="none" stroke="#151515" stroke-width="1.25"/>
<circle cx="1155.3" cy="1175" r="4.0" fill="none" stroke="#151515" stroke-width="1.25"/>
<circle cx="1155.3" cy="1179.3" r="4.0" fill="none" stroke="#151515" stroke-width="1.25"/>
<circle cx="1155.3" cy="1066.2" r="4.0" fill="none" stroke="#151515" stroke-width="1.25"/>
<line x1="1155.3" y1="1114.9" x2="1155.3" y2="1136.9" stroke="#222" stroke-width="1.5"/>
<line x1="1147.9" y1="1114.9" x2="1162.7" y2="1114.9" stroke="#111" stroke-width="1.6"/>
<line x1="1155.3" y1="1162.7" x2="1155.3" y2="1179.3" stroke="#222" stroke-width="1.5"/>
<line x1="1147.9" y1="1179.3" x2="1162.7" y2="1179.3" stroke="#111" stroke-width="1.6"/>
<rect x="1140.1" y="1136.9" width="30.4" height="25.8" fill="#1e9292" fill-opacity="0.8" stroke="#0a2222" stroke-width="1.6"/>
<line x1="1140.1" y1="1148.4" x2="1170.5" y2="1148.4" stroke="#111" stroke-width="1.8"/>
<circle cx="1214.9" cy="723.7" r="4.0" fill="none" stroke="#151515" stroke-width="1.25"/>
<circle cx="1214.9" cy="755.4" r="4.0" fill="none" stroke="#151515" stroke-width="1.25"/>
<circle cx="1214.9" cy="845.3" r="4.0" fill="none" stroke="#151515" stroke-width="1.25"/>
<circle cx="1214.9" cy="889.7" r="4.0" fill="none" stroke="#151515" stroke-width="1.25"/>
<circle cx="1214.9" cy="906.8" r="4.0" fill="none" stroke="#151515" stroke-width="1.25"/>
<circle cx="1214.9" cy="928.9" r="4.0" fill="none" stroke="#151515" stroke-width="1.25"/>
<circle cx="1214.9" cy="1033.9" r="4.0" fill="none" stroke="#151515" stroke-width="1.25"/>
<circle cx="1214.9" cy="1044.2" r="4.0" fill="none" stroke="#151515" stroke-width="1.25"/>
<circle cx="1214.9" cy="1122.6" r="4.0" fill="none" stroke="#151515" stroke-width="1.25"/>
<circle cx="1214.9" cy="1131.5" r="4.0" fill="none" stroke="#151515" stroke-width="1.25"/>
<circle cx="1214.9" cy="1145.5" r="4.0" fill="none" stroke="#151515" stroke-width="1.25"/>
<circle cx="1214.9" cy="1157.8" r="4.0" fill="none" stroke="#151515" stroke-width="1.25"/>
<circle cx="1214.9" cy="1165" r="4.0" fill="none" stroke="#151515" stroke-width="1.25"/>
<circle cx="1214.9" cy="1167" r="4.0" fill="none" stroke="#151515" stroke-width="1.25"/>
<line x1="1214.9" y1="723.7" x2="1214.9" y2="889.7" stroke="#222" stroke-width="1.5"/>
<line x1="1207.5" y1="723.7" x2="1222.3" y2="723.7" stroke="#111" stroke-width="1.6"/>
<line x1="1214.9" y1="1145.5" x2="1214.9" y2="1167" stroke="#222" stroke-width="1.5"/>
<line x1="1207.5" y1="1167" x2="1222.3" y2="1167" stroke="#111" stroke-width="1.6"/>
<rect x="1199.7" y="889.7" width="30.4" height="255.9" fill="#ba3d3d" fill-opacity="0.8" stroke="#2e1212" stroke-width="1.6"/>
<line x1="1199.7" y1="1039.6" x2="1230.1" y2="1039.6" stroke="#111" stroke-width="1.8"/>
<circle cx="1254.9" cy="963.2" r="4.0" fill="none" stroke="#151515" stroke-width="1.25"/>
<circle cx="1254.9" cy="1017.6" r="4.0" fill="none" stroke="#151515" stroke-width="1.25"/>
<circle cx="1254.9" cy="1044.2" r="4.0" fill="none" stroke="#151515" stroke-width="1.25"/>
<circle cx="1254.9" cy="1061.9" r="4.0" fill="none" stroke="#151515" stroke-width="1.25"/>
<circle cx="1254.9" cy="1094.9" r="4.0" fill="none" stroke="#151515" stroke-width="1.25"/>
<circle cx="1254.9" cy="1138.4" r="4.0" fill="none" stroke="#151515" stroke-width="1.25"/>
<circle cx="1254.9" cy="1142.1" r="4.0" fill="none" stroke="#151515" stroke-width="1.25"/>
<circle cx="1254.9" cy="1155" r="4.0" fill="none" stroke="#151515" stroke-width="1.25"/>
<circle cx="1254.9" cy="1160.7" r="4.0" fill="none" stroke="#151515" stroke-width="1.25"/>
<circle cx="1254.9" cy="1165" r="4.0" fill="none" stroke="#151515" stroke-width="1.25"/>
<circle cx="1254.9" cy="1168.7" r="4.0" fill="none" stroke="#151515" stroke-width="1.25"/>
<circle cx="1254.9" cy="1172.1" r="4.0" fill="none" stroke="#151515" stroke-width="1.25"/>
<circle cx="1254.9" cy="705.3" r="4.0" fill="none" stroke="#151515" stroke-width="1.25"/>
<line x1="1254.9" y1="963.2" x2="1254.9" y2="1020.4" stroke="#222" stroke-width="1.5"/>
<line x1="1247.5" y1="963.2" x2="1262.3" y2="963.2" stroke="#111" stroke-width="1.6"/>
<line x1="1254.9" y1="1156.4" x2="1254.9" y2="1172.1" stroke="#222" stroke-width="1.5"/>
<line x1="1247.5" y1="1172.1" x2="1262.3" y2="1172.1" stroke="#111" stroke-width="1.6"/>
<rect x="1239.7" y="1020.4" width="30.4" height="135.9" fill="#1e9292" fill-opacity="0.8" stroke="#0a2222" stroke-width="1.6"/>
<line x1="1239.7" y1="1116.3" x2="1270.1" y2="1116.3" stroke="#111" stroke-width="1.8"/>
<rect x="857.2" y="653.1" width="457" height="529.9" fill="none" stroke="#111" stroke-width="1.8"/>
<line x1="848.9" y1="1182.6" x2="857.2" y2="1182.6" stroke="#111" stroke-width="1.6"/>
<text transform="translate(843.5,1187.9) scale(0.9,1)" text-anchor="end" class="tk">0</text>
<line x1="848.9" y1="1063.3" x2="857.2" y2="1063.3" stroke="#111" stroke-width="1.6"/>
<text transform="translate(843.5,1068.6) scale(0.9,1)" text-anchor="end" class="tk">10000</text>
<line x1="848.9" y1="944" x2="857.2" y2="944" stroke="#111" stroke-width="1.6"/>
<text transform="translate(843.5,949.3) scale(0.9,1)" text-anchor="end" class="tk">20000</text>
<line x1="848.9" y1="824.7" x2="857.2" y2="824.7" stroke="#111" stroke-width="1.6"/>
<text transform="translate(843.5,830) scale(0.9,1)" text-anchor="end" class="tk">30000</text>
<line x1="848.9" y1="705.4" x2="857.2" y2="705.4" stroke="#111" stroke-width="1.6"/>
<text transform="translate(843.5,710.7) scale(0.9,1)" text-anchor="end" class="tk">40000</text>
<line x1="1314.2" y1="1182.6" x2="1322.2" y2="1182.6" stroke="#111" stroke-width="1.6"/>
<text transform="translate(1326.9,1187.9) scale(0.9,1)" class="tk">0</text>
<line x1="1314.2" y1="1042" x2="1322.2" y2="1042" stroke="#111" stroke-width="1.6"/>
<text transform="translate(1326.9,1047.3) scale(0.9,1)" class="tk">200000</text>
<line x1="1314.2" y1="901.4" x2="1322.2" y2="901.4" stroke="#111" stroke-width="1.6"/>
<text transform="translate(1326.9,906.7) scale(0.9,1)" class="tk">400000</text>
<line x1="1314.2" y1="760.8" x2="1322.2" y2="760.8" stroke="#111" stroke-width="1.6"/>
<text transform="translate(1326.9,766.1) scale(0.9,1)" class="tk">600000</text>
<line x1="935.5" y1="1183" x2="935.5" y2="1189.8" stroke="#111" stroke-width="1.6"/>
<text transform="translate(935.5,1209.3) scale(0.9,1)" text-anchor="middle" class="tk">Q1</text>
<line x1="1035.1" y1="1183" x2="1035.1" y2="1189.8" stroke="#111" stroke-width="1.6"/>
<text transform="translate(1035.1,1209.3) scale(0.9,1)" text-anchor="middle" class="tk">Q2</text>
<line x1="1134.7" y1="1183" x2="1134.7" y2="1189.8" stroke="#111" stroke-width="1.6"/>
<text transform="translate(1134.7,1209.3) scale(0.9,1)" text-anchor="middle" class="tk">Q3</text>
<line x1="1234.3" y1="1183" x2="1234.3" y2="1189.8" stroke="#111" stroke-width="1.6"/>
<text transform="translate(1234.3,1209.3) scale(0.9,1)" text-anchor="middle" class="tk">Q4</text>
<text transform="translate(781.2,917.9) rotate(-90) scale(0.99,1)" text-anchor="middle" class="al" fill="#9e2026" >Cmax in Cycle 1 (copies/μg gDNA)</text>
<text transform="translate(1409.7,917.5) rotate(-90) scale(0.993,1)" text-anchor="middle" class="al" fill="#107470" >AUC to Last Nonzero Conc in Cycle 1 (day*copies/μg gDNA)</text>
<text transform="translate(885,674.9) scale(0.86,1)" class="sp" fill="#9e2026" stroke="#9e2026">Spearman's correlation=0.207 P=0.115 N=59</text>
<text transform="translate(885,692.9) scale(0.86,1)" class="sp" fill="#107470" stroke="#107470">Spearman's correlation=0.314 P=0.015 N=59</text>
<text transform="translate(1085.7,1239.4)" text-anchor="middle" class="xl">CD45RA<tspan class="sup" dy="-5.6">−</tspan><tspan dy="5.6"> /CCR7</tspan><tspan class="sup" dy="-5.6">−</tspan><tspan dy="5.6"> T cells(%)</tspan></text>
<text x="753" y="672.1" class="lt">e</text>
<circle cx="1668.7" cy="713.3" r="4.0" fill="none" stroke="#151515" stroke-width="1.25"/>
<circle cx="1668.7" cy="723.7" r="4.0" fill="none" stroke="#151515" stroke-width="1.25"/>
<circle cx="1668.7" cy="755.4" r="4.0" fill="none" stroke="#151515" stroke-width="1.25"/>
<circle cx="1668.7" cy="845.3" r="4.0" fill="none" stroke="#151515" stroke-width="1.25"/>
<circle cx="1668.7" cy="865" r="4.0" fill="none" stroke="#151515" stroke-width="1.25"/>
<circle cx="1668.7" cy="923.7" r="4.0" fill="none" stroke="#151515" stroke-width="1.25"/>
<circle cx="1668.7" cy="956.9" r="4.0" fill="none" stroke="#151515" stroke-width="1.25"/>
<circle cx="1668.7" cy="979.2" r="4.0" fill="none" stroke="#151515" stroke-width="1.25"/>
<circle cx="1668.7" cy="1044.2" r="4.0" fill="none" stroke="#151515" stroke-width="1.25"/>
<circle cx="1668.7" cy="1074.8" r="4.0" fill="none" stroke="#151515" stroke-width="1.25"/>
<circle cx="1668.7" cy="1106.3" r="4.0" fill="none" stroke="#151515" stroke-width="1.25"/>
<circle cx="1668.7" cy="1120.6" r="4.0" fill="none" stroke="#151515" stroke-width="1.25"/>
<circle cx="1668.7" cy="1128.6" r="4.0" fill="none" stroke="#151515" stroke-width="1.25"/>
<circle cx="1668.7" cy="1150.7" r="4.0" fill="none" stroke="#151515" stroke-width="1.25"/>
<circle cx="1668.7" cy="1157.8" r="4.0" fill="none" stroke="#151515" stroke-width="1.25"/>
<line x1="1668.7" y1="713.3" x2="1668.7" y2="845.3" stroke="#222" stroke-width="1.5"/>
<line x1="1661.3" y1="713.3" x2="1676.1" y2="713.3" stroke="#111" stroke-width="1.6"/>
<line x1="1668.7" y1="1120.6" x2="1668.7" y2="1157.8" stroke="#222" stroke-width="1.5"/>
<line x1="1661.3" y1="1157.8" x2="1676.1" y2="1157.8" stroke="#111" stroke-width="1.6"/>
<rect x="1653.5" y="845.3" width="30.4" height="275.3" fill="#ba3d3d" fill-opacity="0.8" stroke="#2e1212" stroke-width="1.6"/>
<line x1="1653.5" y1="979.2" x2="1683.9" y2="979.2" stroke="#111" stroke-width="1.8"/>
<circle cx="1708.7" cy="881.4" r="4.0" fill="none" stroke="#151515" stroke-width="1.25"/>
<circle cx="1708.7" cy="962.6" r="4.0" fill="none" stroke="#151515" stroke-width="1.25"/>
<circle cx="1708.7" cy="1017.6" r="4.0" fill="none" stroke="#151515" stroke-width="1.25"/>
<circle cx="1708.7" cy="1029.6" r="4.0" fill="none" stroke="#151515" stroke-width="1.25"/>
<circle cx="1708.7" cy="1061.9" r="4.0" fill="none" stroke="#151515" stroke-width="1.25"/>
<circle cx="1708.7" cy="1066.8" r="4.0" fill="none" stroke="#151515" stroke-width="1.25"/>
<circle cx="1708.7" cy="1085.7" r="4.0" fill="none" stroke="#151515" stroke-width="1.25"/>
<circle cx="1708.7" cy="1099.2" r="4.0" fill="none" stroke="#151515" stroke-width="1.25"/>
<circle cx="1708.7" cy="1130.1" r="4.0" fill="none" stroke="#151515" stroke-width="1.25"/>
<circle cx="1708.7" cy="1145.5" r="4.0" fill="none" stroke="#151515" stroke-width="1.25"/>
<circle cx="1708.7" cy="1150.7" r="4.0" fill="none" stroke="#151515" stroke-width="1.25"/>
<circle cx="1708.7" cy="1160.7" r="4.0" fill="none" stroke="#151515" stroke-width="1.25"/>
<circle cx="1708.7" cy="1168.4" r="4.0" fill="none" stroke="#151515" stroke-width="1.25"/>
<line x1="1708.7" y1="881.4" x2="1708.7" y2="1020.4" stroke="#222" stroke-width="1.5"/>
<line x1="1701.3" y1="881.4" x2="1716.1" y2="881.4" stroke="#111" stroke-width="1.6"/>
<line x1="1708.7" y1="1149.2" x2="1708.7" y2="1168.4" stroke="#222" stroke-width="1.5"/>
<line x1="1701.3" y1="1168.4" x2="1716.1" y2="1168.4" stroke="#111" stroke-width="1.6"/>
<rect x="1693.5" y="1020.4" width="30.4" height="128.8" fill="#1e9292" fill-opacity="0.8" stroke="#0a2222" stroke-width="1.6"/>
<line x1="1693.5" y1="1085.7" x2="1723.9" y2="1085.7" stroke="#111" stroke-width="1.8"/>
<circle cx="1768.3" cy="1033.9" r="4.0" fill="none" stroke="#151515" stroke-width="1.25"/>
<circle cx="1768.3" cy="1090.6" r="4.0" fill="none" stroke="#151515" stroke-width="1.25"/>
<circle cx="1768.3" cy="1094" r="4.0" fill="none" stroke="#151515" stroke-width="1.25"/>
<circle cx="1768.3" cy="1114.9" r="4.0" fill="none" stroke="#151515" stroke-width="1.25"/>
<circle cx="1768.3" cy="1119.2" r="4.0" fill="none" stroke="#151515" stroke-width="1.25"/>
<circle cx="1768.3" cy="1130.6" r="4.0" fill="none" stroke="#151515" stroke-width="1.25"/>
<circle cx="1768.3" cy="1133.5" r="4.0" fill="none" stroke="#151515" stroke-width="1.25"/>
<circle cx="1768.3" cy="1136.9" r="4.0" fill="none" stroke="#151515" stroke-width="1.25"/>
<circle cx="1768.3" cy="1152.1" r="4.0" fill="none" stroke="#151515" stroke-width="1.25"/>
<circle cx="1768.3" cy="1165" r="4.0" fill="none" stroke="#151515" stroke-width="1.25"/>
<circle cx="1768.3" cy="1177.3" r="4.0" fill="none" stroke="#151515" stroke-width="1.25"/>
<circle cx="1768.3" cy="881.4" r="4.0" fill="none" stroke="#151515" stroke-width="1.25"/>
<circle cx="1768.3" cy="889.7" r="4.0" fill="none" stroke="#151515" stroke-width="1.25"/>
<line x1="1768.3" y1="1033.9" x2="1768.3" y2="1091.1" stroke="#222" stroke-width="1.5"/>
<line x1="1760.9" y1="1033.9" x2="1775.7" y2="1033.9" stroke="#111" stroke-width="1.6"/>
<line x1="1768.3" y1="1136.9" x2="1768.3" y2="1177.3" stroke="#222" stroke-width="1.5"/>
<line x1="1760.9" y1="1177.3" x2="1775.7" y2="1177.3" stroke="#111" stroke-width="1.6"/>
<rect x="1753.1" y="1091.1" width="30.4" height="45.8" fill="#ba3d3d" fill-opacity="0.8" stroke="#2e1212" stroke-width="1.6"/>
<line x1="1753.1" y1="1116.3" x2="1783.5" y2="1116.3" stroke="#111" stroke-width="1.8"/>
<circle cx="1808.3" cy="1130.1" r="4.0" fill="none" stroke="#151515" stroke-width="1.25"/>
<circle cx="1808.3" cy="1137.8" r="4.0" fill="none" stroke="#151515" stroke-width="1.25"/>
<circle cx="1808.3" cy="1142.1" r="4.0" fill="none" stroke="#151515" stroke-width="1.25"/>
<circle cx="1808.3" cy="1146.4" r="4.0" fill="none" stroke="#151515" stroke-width="1.25"/>
<circle cx="1808.3" cy="1149.2" r="4.0" fill="none" stroke="#151515" stroke-width="1.25"/>
<circle cx="1808.3" cy="1160.7" r="4.0" fill="none" stroke="#151515" stroke-width="1.25"/>
<circle cx="1808.3" cy="1168.7" r="4.0" fill="none" stroke="#151515" stroke-width="1.25"/>
<circle cx="1808.3" cy="1179.3" r="4.0" fill="none" stroke="#151515" stroke-width="1.25"/>
<circle cx="1808.3" cy="1044.2" r="4.0" fill="none" stroke="#151515" stroke-width="1.25"/>
<circle cx="1808.3" cy="1094.9" r="4.0" fill="none" stroke="#151515" stroke-width="1.25"/>
<line x1="1808.3" y1="1130.1" x2="1808.3" y2="1138.4" stroke="#222" stroke-width="1.5"/>
<line x1="1800.9" y1="1130.1" x2="1815.7" y2="1130.1" stroke="#111" stroke-width="1.6"/>
<line x1="1808.3" y1="1156.4" x2="1808.3" y2="1179.3" stroke="#222" stroke-width="1.5"/>
<line x1="1800.9" y1="1179.3" x2="1815.7" y2="1179.3" stroke="#111" stroke-width="1.6"/>
<rect x="1793.1" y="1138.4" width="30.4" height="18" fill="#1e9292" fill-opacity="0.8" stroke="#0a2222" stroke-width="1.6"/>
<line x1="1793.1" y1="1147.2" x2="1823.5" y2="1147.2" stroke="#111" stroke-width="1.8"/>
<circle cx="1867.9" cy="1070.5" r="4.0" fill="none" stroke="#151515" stroke-width="1.25"/>
<circle cx="1867.9" cy="1117.8" r="4.0" fill="none" stroke="#151515" stroke-width="1.25"/>
<circle cx="1867.9" cy="1123.5" r="4.0" fill="none" stroke="#151515" stroke-width="1.25"/>
<circle cx="1867.9" cy="1128.6" r="4.0" fill="none" stroke="#151515" stroke-width="1.25"/>
<circle cx="1867.9" cy="1137.8" r="4.0" fill="none" stroke="#151515" stroke-width="1.25"/>
<circle cx="1867.9" cy="1146.4" r="4.0" fill="none" stroke="#151515" stroke-width="1.25"/>
<circle cx="1867.9" cy="1153.5" r="4.0" fill="none" stroke="#151515" stroke-width="1.25"/>
<circle cx="1867.9" cy="1160.7" r="4.0" fill="none" stroke="#151515" stroke-width="1.25"/>
<circle cx="1867.9" cy="1167.8" r="4.0" fill="none" stroke="#151515" stroke-width="1.25"/>
<circle cx="1867.9" cy="1178.4" r="4.0" fill="none" stroke="#151515" stroke-width="1.25"/>
<circle cx="1867.9" cy="928.9" r="4.0" fill="none" stroke="#151515" stroke-width="1.25"/>
<circle cx="1867.9" cy="1038.2" r="4.0" fill="none" stroke="#151515" stroke-width="1.25"/>
<line x1="1867.9" y1="1070.5" x2="1867.9" y2="1118.3" stroke="#222" stroke-width="1.5"/>
<line x1="1860.5" y1="1070.5" x2="1875.3" y2="1070.5" stroke="#111" stroke-width="1.6"/>
<line x1="1867.9" y1="1165.6" x2="1867.9" y2="1178.4" stroke="#222" stroke-width="1.5"/>
<line x1="1860.5" y1="1178.4" x2="1875.3" y2="1178.4" stroke="#111" stroke-width="1.6"/>
<rect x="1852.7" y="1118.3" width="30.4" height="47.2" fill="#ba3d3d" fill-opacity="0.8" stroke="#2e1212" stroke-width="1.6"/>
<line x1="1852.7" y1="1144.9" x2="1883.1" y2="1144.9" stroke="#111" stroke-width="1.8"/>
<circle cx="1907.9" cy="1124.9" r="4.0" fill="none" stroke="#151515" stroke-width="1.25"/>
<circle cx="1907.9" cy="1137.8" r="4.0" fill="none" stroke="#151515" stroke-width="1.25"/>
<circle cx="1907.9" cy="1150.7" r="4.0" fill="none" stroke="#151515" stroke-width="1.25"/>
<circle cx="1907.9" cy="1156.4" r="4.0" fill="none" stroke="#151515" stroke-width="1.25"/>
<circle cx="1907.9" cy="1163.5" r="4.0" fill="none" stroke="#151515" stroke-width="1.25"/>
<circle cx="1907.9" cy="1168.7" r="4.0" fill="none" stroke="#151515" stroke-width="1.25"/>
<circle cx="1907.9" cy="1175" r="4.0" fill="none" stroke="#151515" stroke-width="1.25"/>
<circle cx="1907.9" cy="1177.9" r="4.0" fill="none" stroke="#151515" stroke-width="1.25"/>
<circle cx="1907.9" cy="1179.3" r="4.0" fill="none" stroke="#151515" stroke-width="1.25"/>
<circle cx="1907.9" cy="705.3" r="4.0" fill="none" stroke="#151515" stroke-width="1.25"/>
<line x1="1907.9" y1="1124.9" x2="1907.9" y2="1137.8" stroke="#222" stroke-width="1.5"/>
<line x1="1900.5" y1="1124.9" x2="1915.3" y2="1124.9" stroke="#111" stroke-width="1.6"/>
<line x1="1907.9" y1="1172.1" x2="1907.9" y2="1179.3" stroke="#222" stroke-width="1.5"/>
<line x1="1900.5" y1="1179.3" x2="1915.3" y2="1179.3" stroke="#111" stroke-width="1.6"/>
<rect x="1892.7" y="1137.8" width="30.4" height="34.3" fill="#1e9292" fill-opacity="0.8" stroke="#0a2222" stroke-width="1.6"/>
<line x1="1892.7" y1="1162.7" x2="1923.1" y2="1162.7" stroke="#111" stroke-width="1.8"/>
<circle cx="1967.5" cy="1038.2" r="4.0" fill="none" stroke="#151515" stroke-width="1.25"/>
<circle cx="1967.5" cy="1077.1" r="4.0" fill="none" stroke="#151515" stroke-width="1.25"/>
<circle cx="1967.5" cy="1112.9" r="4.0" fill="none" stroke="#151515" stroke-width="1.25"/>
<circle cx="1967.5" cy="1127.2" r="4.0" fill="none" stroke="#151515" stroke-width="1.25"/>
<circle cx="1967.5" cy="1140.7" r="4.0" fill="none" stroke="#151515" stroke-width="1.25"/>
<circle cx="1967.5" cy="1146.4" r="4.0" fill="none" stroke="#151515" stroke-width="1.25"/>
<circle cx="1967.5" cy="1149.2" r="4.0" fill="none" stroke="#151515" stroke-width="1.25"/>
<circle cx="1967.5" cy="1162.7" r="4.0" fill="none" stroke="#151515" stroke-width="1.25"/>
<circle cx="1967.5" cy="1172.1" r="4.0" fill="none" stroke="#151515" stroke-width="1.25"/>
<circle cx="1967.5" cy="1176.4" r="4.0" fill="none" stroke="#151515" stroke-width="1.25"/>
<line x1="1967.5" y1="1038.2" x2="1967.5" y2="1112.9" stroke="#222" stroke-width="1.5"/>
<line x1="1960.1" y1="1038.2" x2="1974.9" y2="1038.2" stroke="#111" stroke-width="1.6"/>
<line x1="1967.5" y1="1165.8" x2="1967.5" y2="1176.4" stroke="#222" stroke-width="1.5"/>
<line x1="1960.1" y1="1176.4" x2="1974.9" y2="1176.4" stroke="#111" stroke-width="1.6"/>
<rect x="1952.3" y="1112.9" width="30.4" height="52.9" fill="#ba3d3d" fill-opacity="0.8" stroke="#2e1212" stroke-width="1.6"/>
<line x1="1952.3" y1="1144.9" x2="1982.7" y2="1144.9" stroke="#111" stroke-width="1.8"/>
<circle cx="2007.5" cy="1110.6" r="4.0" fill="none" stroke="#151515" stroke-width="1.25"/>
<circle cx="2007.5" cy="1114.9" r="4.0" fill="none" stroke="#151515" stroke-width="1.25"/>
<circle cx="2007.5" cy="1144.4" r="4.0" fill="none" stroke="#151515" stroke-width="1.25"/>
<circle cx="2007.5" cy="1153.5" r="4.0" fill="none" stroke="#151515" stroke-width="1.25"/>
<circle cx="2007.5" cy="1160.7" r="4.0" fill="none" stroke="#151515" stroke-width="1.25"/>
<circle cx="2007.5" cy="1167" r="4.0" fill="none" stroke="#151515" stroke-width="1.25"/>
<circle cx="2007.5" cy="1170.7" r="4.0" fill="none" stroke="#151515" stroke-width="1.25"/>
<circle cx="2007.5" cy="1176.4" r="4.0" fill="none" stroke="#151515" stroke-width="1.25"/>
<circle cx="2007.5" cy="1178.4" r="4.0" fill="none" stroke="#151515" stroke-width="1.25"/>
<circle cx="2007.5" cy="1094.9" r="4.0" fill="none" stroke="#151515" stroke-width="1.25"/>
<line x1="2007.5" y1="1110.6" x2="2007.5" y2="1144.4" stroke="#222" stroke-width="1.5"/>
<line x1="2000.1" y1="1110.6" x2="2014.9" y2="1110.6" stroke="#111" stroke-width="1.6"/>
<line x1="2007.5" y1="1176.4" x2="2007.5" y2="1178.4" stroke="#222" stroke-width="1.5"/>
<line x1="2000.1" y1="1178.4" x2="2014.9" y2="1178.4" stroke="#111" stroke-width="1.6"/>
<rect x="1992.3" y="1144.4" width="30.4" height="32.1" fill="#1e9292" fill-opacity="0.8" stroke="#0a2222" stroke-width="1.6"/>
<line x1="1992.3" y1="1161.3" x2="2022.7" y2="1161.3" stroke="#111" stroke-width="1.8"/>
<rect x="1609.8" y="653.1" width="457" height="529.9" fill="none" stroke="#111" stroke-width="1.8"/>
<line x1="1601.5" y1="1182.6" x2="1609.8" y2="1182.6" stroke="#111" stroke-width="1.6"/>
<text transform="translate(1596.1,1187.9) scale(0.9,1)" text-anchor="end" class="tk">0</text>
<line x1="1601.5" y1="1063.3" x2="1609.8" y2="1063.3" stroke="#111" stroke-width="1.6"/>
<text transform="translate(1596.1,1068.6) scale(0.9,1)" text-anchor="end" class="tk">10000</text>
<line x1="1601.5" y1="944" x2="1609.8" y2="944" stroke="#111" stroke-width="1.6"/>
<text transform="translate(1596.1,949.3) scale(0.9,1)" text-anchor="end" class="tk">20000</text>
<line x1="1601.5" y1="824.7" x2="1609.8" y2="824.7" stroke="#111" stroke-width="1.6"/>
<text transform="translate(1596.1,830) scale(0.9,1)" text-anchor="end" class="tk">30000</text>
<line x1="1601.5" y1="705.4" x2="1609.8" y2="705.4" stroke="#111" stroke-width="1.6"/>
<text transform="translate(1596.1,710.7) scale(0.9,1)" text-anchor="end" class="tk">40000</text>
<line x1="2066.8" y1="1182.6" x2="2074.8" y2="1182.6" stroke="#111" stroke-width="1.6"/>
<text transform="translate(2079.5,1187.9) scale(0.9,1)" class="tk">0</text>
<line x1="2066.8" y1="1042" x2="2074.8" y2="1042" stroke="#111" stroke-width="1.6"/>
<text transform="translate(2079.5,1047.3) scale(0.9,1)" class="tk">200000</text>
<line x1="2066.8" y1="901.4" x2="2074.8" y2="901.4" stroke="#111" stroke-width="1.6"/>
<text transform="translate(2079.5,906.7) scale(0.9,1)" class="tk">400000</text>
<line x1="2066.8" y1="760.8" x2="2074.8" y2="760.8" stroke="#111" stroke-width="1.6"/>
<text transform="translate(2079.5,766.1) scale(0.9,1)" class="tk">600000</text>
<line x1="1688.1" y1="1183" x2="1688.1" y2="1189.8" stroke="#111" stroke-width="1.6"/>
<text transform="translate(1688.1,1209.3) scale(0.9,1)" text-anchor="middle" class="tk">Q1</text>
<line x1="1787.7" y1="1183" x2="1787.7" y2="1189.8" stroke="#111" stroke-width="1.6"/>
<text transform="translate(1787.7,1209.3) scale(0.9,1)" text-anchor="middle" class="tk">Q2</text>
<line x1="1887.3" y1="1183" x2="1887.3" y2="1189.8" stroke="#111" stroke-width="1.6"/>
<text transform="translate(1887.3,1209.3) scale(0.9,1)" text-anchor="middle" class="tk">Q3</text>
<line x1="1986.9" y1="1183" x2="1986.9" y2="1189.8" stroke="#111" stroke-width="1.6"/>
<text transform="translate(1986.9,1209.3) scale(0.9,1)" text-anchor="middle" class="tk">Q4</text>
<text transform="translate(1533.8,917.9) rotate(-90) scale(0.99,1)" text-anchor="middle" class="al" fill="#9e2026" >Cmax in Cycle 1 (copies/μg gDNA)</text>
<text transform="translate(2162.3,917.5) rotate(-90) scale(0.993,1)" text-anchor="middle" class="al" fill="#107470" >AUC to Last Nonzero Conc in Cycle 1 (day*copies/μg gDNA)</text>
<text transform="translate(1637.6,674.9) scale(0.86,1)" class="sp" fill="#9e2026" stroke="#9e2026">Spearman's correlation=-0.489 P=0.000 N=59</text>
<text transform="translate(1637.6,692.9) scale(0.86,1)" class="sp" fill="#107470" stroke="#107470">Spearman's correlation=-0.446 P=0.000 N=59</text>
<text transform="translate(1838.3,1239.4)" text-anchor="middle" class="xl">CD45RA<tspan class="sup" dy="-5.6">+</tspan><tspan dy="5.6"> /CCR7</tspan><tspan class="sup" dy="-5.6">−</tspan><tspan dy="5.6"> T cells(%)</tspan></text>
<text x="1530.8" y="671.6" class="lt">f</text>
<path d="M420.4,1447.1 L429.8,1449.9 L439.3,1452.7 L448.7,1455.5 L458.2,1458.3 L467.6,1461.1 L477.1,1463.8 L486.5,1466.5 L496,1469.3 L505.4,1472 L514.9,1474.7 L524.3,1477.3 L533.7,1480 L543.2,1482.6 L552.6,1485.2 L562.1,1487.8 L571.5,1490.3 L581,1492.8 L590.4,1495.3 L599.9,1497.7 L609.3,1500.1 L618.7,1502.5 L628.2,1504.8 L637.6,1507.1 L647.1,1509.3 L656.5,1511.4 L666,1513.5 L675.4,1515.5 L684.9,1517.5 L694.3,1519.4 L703.8,1521.3 L713.2,1523.1 L722.6,1524.9 L732.1,1526.6 L741.5,1528.2 L751,1529.9 L760.4,1531.4 L769.9,1533 L779.3,1534.4 L788.8,1535.9 L798.2,1537.3 L807.6,1538.7 L817.1,1540.1 L826.5,1541.4 L836,1542.8 L845.4,1544.1 L854.9,1545.4 L864.3,1546.6 L873.8,1547.9 L883.2,1549.1 L892.7,1550.4 L902.1,1551.6 L911.5,1552.8 L921,1554 L930.4,1555.1 L939.9,1556.3 L949.3,1557.5 L958.8,1558.7 L968.2,1559.8 L977.7,1561 L987.1,1562.1 L987.1,1631.9 L977.7,1629.1 L968.2,1626.2 L958.8,1623.4 L949.3,1620.6 L939.9,1617.8 L930.4,1615 L921,1612.2 L911.5,1609.4 L902.1,1606.6 L892.7,1603.8 L883.2,1601.1 L873.8,1598.4 L864.3,1595.6 L854.9,1592.9 L845.4,1590.2 L836,1587.6 L826.5,1584.9 L817.1,1582.3 L807.6,1579.7 L798.2,1577.1 L788.8,1574.5 L779.3,1572 L769.9,1569.5 L760.4,1567.1 L751,1564.6 L741.5,1562.3 L732.1,1560 L722.6,1557.7 L713.2,1555.5 L703.8,1553.3 L694.3,1551.2 L684.9,1549.1 L675.4,1547.1 L666,1545.2 L656.5,1543.3 L647.1,1541.5 L637.6,1539.7 L628.2,1538 L618.7,1536.3 L609.3,1534.7 L599.9,1533.1 L590.4,1531.5 L581,1530 L571.5,1528.6 L562.1,1527.1 L552.6,1525.7 L543.2,1524.3 L533.7,1523 L524.3,1521.7 L514.9,1520.3 L505.4,1519.1 L496,1517.8 L486.5,1516.5 L477.1,1515.3 L467.6,1514 L458.2,1512.8 L448.7,1511.6 L439.3,1510.4 L429.8,1509.2 L420.4,1508.1 Z" fill="#b9cfea" stroke="none"/>
<path d="M420.4,1351.8 L429.8,1354 L439.3,1356.1 L448.7,1358.3 L458.2,1360.5 L467.6,1362.6 L477.1,1364.8 L486.5,1366.9 L496,1369.1 L505.4,1371.2 L514.9,1373.3 L524.3,1375.4 L533.7,1377.5 L543.2,1379.6 L552.6,1381.7 L562.1,1383.8 L571.5,1385.9 L581,1388 L590.4,1390 L599.9,1392.1 L609.3,1394.1 L618.7,1396.2 L628.2,1398.2 L637.6,1400.2 L647.1,1402.3 L656.5,1404.3 L666,1406.3 L675.4,1408.3 L684.9,1410.3 L694.3,1412.2 L703.8,1414.2 L713.2,1416.2 L722.6,1418.1 L732.1,1420.1 L741.5,1422 L751,1424 L760.4,1425.9 L769.9,1427.8 L779.3,1429.7 L788.8,1431.6 L798.2,1433.5 L807.6,1435.4 L817.1,1437.3 L826.5,1439.2 L836,1441.1 L845.4,1442.9 L854.9,1444.8 L864.3,1446.6 L873.8,1448.5 L883.2,1450.3 L892.7,1452.1 L902.1,1454 L911.5,1455.8 L921,1457.6 L930.4,1459.4 L939.9,1461.2 L949.3,1462.9 L958.8,1464.7 L968.2,1466.5 L977.7,1468.3 L987.1,1470" fill="none" stroke="#2f4272" stroke-width="1.5" stroke-dasharray="4.6,4.1"/>
<path d="M420.4,1603.4 L429.8,1605.2 L439.3,1607 L448.7,1608.8 L458.2,1610.6 L467.6,1612.5 L477.1,1614.3 L486.5,1616.1 L496,1618 L505.4,1619.8 L514.9,1621.7 L524.3,1623.5 L533.7,1625.4 L543.2,1627.3 L552.6,1629.2 L562.1,1631.1 L571.5,1633 L581,1634.9 L590.4,1636.8 L599.9,1638.7 L609.3,1640.7 L618.7,1642.6 L628.2,1644.5 L637.6,1646.5 L647.1,1648.5 L656.5,1650.4 L666,1652.4 L675.4,1654.4 L684.9,1656.4 L694.3,1658.4 L703.8,1660.4 L713.2,1662.4 L722.6,1664.4 L732.1,1666.4 L741.5,1668.5 L751,1670.5 L760.4,1672.6 L769.9,1674.6 L779.3,1676.7 L788.8,1678.8 L798.2,1680.9 L807.6,1682.9 L817.1,1685 L826.5,1687.1 L836,1689.3 L845.4,1691.4 L854.9,1693.5 L864.3,1695.6 L873.8,1697.8 L883.2,1699.9 L892.7,1702.1 L902.1,1704.2 L911.5,1706.4 L921,1708.6 L930.4,1710.7 L939.9,1712.9 L949.3,1715.1 L958.8,1717.3 L968.2,1719.5 L977.7,1721.8 L987.1,1724" fill="none" stroke="#2f4272" stroke-width="1.5" stroke-dasharray="4.6,4.1"/>
<line x1="420.4" y1="1477.6" x2="987.1" y2="1597" stroke="#0b3079" stroke-width="2.6"/>
<circle cx="420.4" cy="1433.1" r="3.65" fill="none" stroke="#111" stroke-width="1.45"/>
<circle cx="445.1" cy="1410.6" r="3.65" fill="none" stroke="#111" stroke-width="1.45"/>
<circle cx="477.2" cy="1411.9" r="3.65" fill="none" stroke="#111" stroke-width="1.45"/>
<circle cx="523.8" cy="1416" r="3.65" fill="none" stroke="#111" stroke-width="1.45"/>
<circle cx="561.5" cy="1430" r="3.65" fill="none" stroke="#111" stroke-width="1.45"/>
<circle cx="573.2" cy="1438.2" r="3.65" fill="none" stroke="#111" stroke-width="1.45"/>
<circle cx="583.3" cy="1436.6" r="3.65" fill="none" stroke="#111" stroke-width="1.45"/>
<circle cx="522.5" cy="1453.4" r="3.65" fill="none" stroke="#111" stroke-width="1.45"/>
<circle cx="529.1" cy="1445.5" r="3.65" fill="none" stroke="#111" stroke-width="1.45"/>
<circle cx="461.9" cy="1459.5" r="3.65" fill="none" stroke="#111" stroke-width="1.45"/>
<circle cx="486.3" cy="1482" r="3.65" fill="none" stroke="#111" stroke-width="1.45"/>
<circle cx="571.6" cy="1477.5" r="3.65" fill="none" stroke="#111" stroke-width="1.45"/>
<circle cx="443.5" cy="1496.2" r="3.65" fill="none" stroke="#111" stroke-width="1.45"/>
<circle cx="481.3" cy="1517.2" r="3.65" fill="none" stroke="#111" stroke-width="1.45"/>
<circle cx="459.1" cy="1528.9" r="3.65" fill="none" stroke="#111" stroke-width="1.45"/>
<circle cx="449.9" cy="1536.8" r="3.65" fill="none" stroke="#111" stroke-width="1.45"/>
<circle cx="465.7" cy="1567.9" r="3.65" fill="none" stroke="#111" stroke-width="1.45"/>
<circle cx="508.2" cy="1582.8" r="3.65" fill="none" stroke="#111" stroke-width="1.45"/>
<circle cx="571.9" cy="1524.1" r="3.65" fill="none" stroke="#111" stroke-width="1.45"/>
<circle cx="586.2" cy="1540" r="3.65" fill="none" stroke="#111" stroke-width="1.45"/>
<circle cx="588.7" cy="1546.9" r="3.65" fill="none" stroke="#111" stroke-width="1.45"/>
<circle cx="606.8" cy="1506.1" r="3.65" fill="none" stroke="#111" stroke-width="1.45"/>
<circle cx="638.8" cy="1508.3" r="3.65" fill="none" stroke="#111" stroke-width="1.45"/>
<circle cx="635" cy="1529.5" r="3.65" fill="none" stroke="#111" stroke-width="1.45"/>
<circle cx="648" cy="1525.4" r="3.65" fill="none" stroke="#111" stroke-width="1.45"/>
<circle cx="630.9" cy="1541.9" r="3.65" fill="none" stroke="#111" stroke-width="1.45"/>
<circle cx="613.1" cy="1570.1" r="3.65" fill="none" stroke="#111" stroke-width="1.45"/>
<circle cx="673.7" cy="1525.4" r="3.65" fill="none" stroke="#111" stroke-width="1.45"/>
<circle cx="687" cy="1526" r="3.65" fill="none" stroke="#111" stroke-width="1.45"/>
<circle cx="687" cy="1533.6" r="3.65" fill="none" stroke="#111" stroke-width="1.45"/>
<circle cx="688" cy="1558" r="3.65" fill="none" stroke="#111" stroke-width="1.45"/>
<circle cx="654.4" cy="1601.8" r="3.65" fill="none" stroke="#111" stroke-width="1.45"/>
<circle cx="655.6" cy="1672.8" r="3.65" fill="none" stroke="#111" stroke-width="1.45"/>
<circle cx="706.3" cy="1479.4" r="3.65" fill="none" stroke="#111" stroke-width="1.45"/>
<circle cx="712.6" cy="1572.9" r="3.65" fill="none" stroke="#111" stroke-width="1.45"/>
<circle cx="719.3" cy="1589.4" r="3.65" fill="none" stroke="#111" stroke-width="1.45"/>
<circle cx="701.2" cy="1610.4" r="3.65" fill="none" stroke="#111" stroke-width="1.45"/>
<circle cx="743.7" cy="1605.3" r="3.65" fill="none" stroke="#111" stroke-width="1.45"/>
<circle cx="731.9" cy="1698.2" r="3.65" fill="none" stroke="#111" stroke-width="1.45"/>
<circle cx="766.8" cy="1494" r="3.65" fill="none" stroke="#111" stroke-width="1.45"/>
<circle cx="764.3" cy="1530.5" r="3.65" fill="none" stroke="#111" stroke-width="1.45"/>
<circle cx="779.8" cy="1573.9" r="3.65" fill="none" stroke="#111" stroke-width="1.45"/>
<circle cx="794.1" cy="1446.5" r="3.65" fill="none" stroke="#111" stroke-width="1.45"/>
<circle cx="814.7" cy="1441.4" r="3.65" fill="none" stroke="#111" stroke-width="1.45"/>
<circle cx="794.1" cy="1612.6" r="3.65" fill="none" stroke="#111" stroke-width="1.45"/>
<circle cx="803.3" cy="1546.6" r="3.65" fill="none" stroke="#111" stroke-width="1.45"/>
<circle cx="818.8" cy="1566" r="3.65" fill="none" stroke="#111" stroke-width="1.45"/>
<circle cx="805.5" cy="1638.6" r="3.65" fill="none" stroke="#111" stroke-width="1.45"/>
<circle cx="849.5" cy="1556.8" r="3.65" fill="none" stroke="#111" stroke-width="1.45"/>
<circle cx="856.2" cy="1535.5" r="3.65" fill="none" stroke="#111" stroke-width="1.45"/>
<circle cx="875.2" cy="1552.3" r="3.65" fill="none" stroke="#111" stroke-width="1.45"/>
<circle cx="879.7" cy="1479.4" r="3.65" fill="none" stroke="#111" stroke-width="1.45"/>
<circle cx="893.6" cy="1497.5" r="3.65" fill="none" stroke="#111" stroke-width="1.45"/>
<circle cx="902.8" cy="1521.6" r="3.65" fill="none" stroke="#111" stroke-width="1.45"/>
<circle cx="884.4" cy="1659.8" r="3.65" fill="none" stroke="#111" stroke-width="1.45"/>
<circle cx="978.9" cy="1560.9" r="3.65" fill="none" stroke="#111" stroke-width="1.45"/>
<circle cx="987.1" cy="1597" r="3.65" fill="none" stroke="#111" stroke-width="1.45"/>
<circle cx="975.1" cy="1607.5" r="3.65" fill="none" stroke="#111" stroke-width="1.45"/>
<circle cx="967.5" cy="1672.8" r="3.65" fill="none" stroke="#111" stroke-width="1.45"/>
<rect x="364" y="1319.7" width="664.2" height="482" fill="none" stroke="#222" stroke-width="1.3"/>
<line x1="356.5" y1="1327.9" x2="364" y2="1327.9" stroke="#222" stroke-width="1.3"/>
<text x="351.7" y="1333.7" text-anchor="end" class="st">12</text>
<line x1="356.5" y1="1386.1" x2="364" y2="1386.1" stroke="#222" stroke-width="1.3"/>
<text x="351.7" y="1391.9" text-anchor="end" class="st">11</text>
<line x1="356.5" y1="1444.3" x2="364" y2="1444.3" stroke="#222" stroke-width="1.3"/>
<text x="351.7" y="1450.1" text-anchor="end" class="st">10</text>
<line x1="356.5" y1="1502.4" x2="364" y2="1502.4" stroke="#222" stroke-width="1.3"/>
<text x="351.7" y="1508.2" text-anchor="end" class="st">9</text>
<line x1="356.5" y1="1560.6" x2="364" y2="1560.6" stroke="#222" stroke-width="1.3"/>
<text x="351.7" y="1566.4" text-anchor="end" class="st">8</text>
<line x1="356.5" y1="1618.8" x2="364" y2="1618.8" stroke="#222" stroke-width="1.3"/>
<text x="351.7" y="1624.6" text-anchor="end" class="st">7</text>
<line x1="356.5" y1="1677" x2="364" y2="1677" stroke="#222" stroke-width="1.3"/>
<text x="351.7" y="1682.8" text-anchor="end" class="st">6</text>
<line x1="356.5" y1="1735.2" x2="364" y2="1735.2" stroke="#222" stroke-width="1.3"/>
<text x="351.7" y="1741" text-anchor="end" class="st">5</text>
<line x1="356.5" y1="1793.3" x2="364" y2="1793.3" stroke="#222" stroke-width="1.3"/>
<text x="351.7" y="1799.1" text-anchor="end" class="st">4</text>
<line x1="372.5" y1="1801.7" x2="372.5" y2="1809.7" stroke="#222" stroke-width="1.3"/>
<text x="372.5" y="1830.2" text-anchor="middle" class="st">0</text>
<line x1="437.1" y1="1801.7" x2="437.1" y2="1809.7" stroke="#222" stroke-width="1.3"/>
<text x="437.1" y="1830.2" text-anchor="middle" class="st">5</text>
<line x1="501.8" y1="1801.7" x2="501.8" y2="1809.7" stroke="#222" stroke-width="1.3"/>
<text x="501.8" y="1830.2" text-anchor="middle" class="st">10</text>
<line x1="566.5" y1="1801.7" x2="566.5" y2="1809.7" stroke="#222" stroke-width="1.3"/>
<text x="566.5" y="1830.2" text-anchor="middle" class="st">15</text>
<line x1="631.1" y1="1801.7" x2="631.1" y2="1809.7" stroke="#222" stroke-width="1.3"/>
<text x="631.1" y="1830.2" text-anchor="middle" class="st">20</text>
<line x1="695.8" y1="1801.7" x2="695.8" y2="1809.7" stroke="#222" stroke-width="1.3"/>
<text x="695.8" y="1830.2" text-anchor="middle" class="st">25</text>
<line x1="760.4" y1="1801.7" x2="760.4" y2="1809.7" stroke="#222" stroke-width="1.3"/>
<text x="760.4" y="1830.2" text-anchor="middle" class="st">30</text>
<line x1="825" y1="1801.7" x2="825" y2="1809.7" stroke="#222" stroke-width="1.3"/>
<text x="825" y="1830.2" text-anchor="middle" class="st">35</text>
<line x1="889.7" y1="1801.7" x2="889.7" y2="1809.7" stroke="#222" stroke-width="1.3"/>
<text x="889.7" y="1830.2" text-anchor="middle" class="st">40</text>
<line x1="954.4" y1="1801.7" x2="954.4" y2="1809.7" stroke="#222" stroke-width="1.3"/>
<text x="954.4" y="1830.2" text-anchor="middle" class="st">45</text>
<line x1="1019" y1="1801.7" x2="1019" y2="1809.7" stroke="#222" stroke-width="1.3"/>
<text x="1019" y="1830.2" text-anchor="middle" class="st">50</text>
<text x="696.3" y="1858.6" text-anchor="middle" class="sx">CD45RA+/CCR7- T cells(%)</text>
<text transform="translate(309.9,1560.7) rotate(-90)" text-anchor="middle" class="sy" textLength="217" lengthAdjust="spacingAndGlyphs">Ln(Cmax(copies/ug gDNA))</text>
<text x="838.1" y="1342.8" class="ss">Number of Patients: 59</text>
<text x="838.1" y="1361.8" class="ss">R-square: 0.2328</text>
<text x="838.1" y="1380.8" class="ss">P value: 0.0001</text>
<text x="272" y="1334.9" class="lt">g</text>
<path d="M1277.6,1441.5 L1287,1444 L1296.5,1446.6 L1305.9,1449.2 L1315.3,1451.7 L1324.8,1454.3 L1334.2,1456.8 L1343.6,1459.3 L1353.1,1461.9 L1362.5,1464.3 L1371.9,1466.8 L1381.4,1469.3 L1390.8,1471.7 L1400.2,1474.1 L1409.7,1476.5 L1419.1,1478.9 L1428.5,1481.2 L1438,1483.5 L1447.4,1485.7 L1456.8,1488 L1466.3,1490.1 L1475.7,1492.3 L1485.1,1494.4 L1494.6,1496.4 L1504,1498.4 L1513.4,1500.3 L1522.9,1502.2 L1532.3,1504 L1541.7,1505.8 L1551.2,1507.5 L1560.6,1509.1 L1570,1510.7 L1579.5,1512.2 L1588.9,1513.7 L1598.3,1515.2 L1607.8,1516.5 L1617.2,1517.9 L1626.6,1519.2 L1636.1,1520.5 L1645.5,1521.7 L1654.9,1522.9 L1664.4,1524.1 L1673.8,1525.2 L1683.2,1526.3 L1692.7,1527.4 L1702.1,1528.5 L1711.5,1529.6 L1721,1530.6 L1730.4,1531.6 L1739.8,1532.6 L1749.3,1533.6 L1758.7,1534.6 L1768.1,1535.6 L1777.6,1536.6 L1787,1537.5 L1796.4,1538.5 L1805.9,1539.4 L1815.3,1540.4 L1824.7,1541.3 L1834.2,1542.2 L1843.6,1543.1 L1843.6,1613.5 L1834.2,1610.9 L1824.7,1608.2 L1815.3,1605.6 L1805.9,1603 L1796.4,1600.4 L1787,1597.8 L1777.6,1595.3 L1768.1,1592.7 L1758.7,1590.1 L1749.3,1587.6 L1739.8,1585.1 L1730.4,1582.5 L1721,1580 L1711.5,1577.5 L1702.1,1575 L1692.7,1572.6 L1683.2,1570.1 L1673.8,1567.7 L1664.4,1565.3 L1654.9,1563 L1645.5,1560.6 L1636.1,1558.3 L1626.6,1556.1 L1617.2,1553.8 L1607.8,1551.6 L1598.3,1549.5 L1588.9,1547.4 L1579.5,1545.3 L1570,1543.3 L1560.6,1541.4 L1551.2,1539.5 L1541.7,1537.7 L1532.3,1535.9 L1522.9,1534.2 L1513.4,1532.5 L1504,1530.9 L1494.6,1529.3 L1485.1,1527.9 L1475.7,1526.4 L1466.3,1525 L1456.8,1523.6 L1447.4,1522.3 L1438,1521.1 L1428.5,1519.8 L1419.1,1518.6 L1409.7,1517.4 L1400.2,1516.3 L1390.8,1515.1 L1381.4,1514 L1371.9,1513 L1362.5,1511.9 L1353.1,1510.8 L1343.6,1509.8 L1334.2,1508.8 L1324.8,1507.8 L1315.3,1506.8 L1305.9,1505.8 L1296.5,1504.9 L1287,1503.9 L1277.6,1502.9 Z" fill="#b9cfea" stroke="none"/>
<path d="M1277.6,1345.6 L1287,1347.6 L1296.5,1349.6 L1305.9,1351.5 L1315.3,1353.4 L1324.8,1355.4 L1334.2,1357.3 L1343.6,1359.2 L1353.1,1361.2 L1362.5,1363.1 L1371.9,1365 L1381.4,1366.9 L1390.8,1368.7 L1400.2,1370.6 L1409.7,1372.5 L1419.1,1374.4 L1428.5,1376.2 L1438,1378.1 L1447.4,1379.9 L1456.8,1381.7 L1466.3,1383.6 L1475.7,1385.4 L1485.1,1387.2 L1494.6,1389 L1504,1390.8 L1513.4,1392.6 L1522.9,1394.4 L1532.3,1396.2 L1541.7,1397.9 L1551.2,1399.7 L1560.6,1401.4 L1570,1403.2 L1579.5,1404.9 L1588.9,1406.6 L1598.3,1408.4 L1607.8,1410.1 L1617.2,1411.8 L1626.6,1413.5 L1636.1,1415.2 L1645.5,1416.9 L1654.9,1418.5 L1664.4,1420.2 L1673.8,1421.9 L1683.2,1423.5 L1692.7,1425.2 L1702.1,1426.8 L1711.5,1428.5 L1721,1430.1 L1730.4,1431.7 L1739.8,1433.3 L1749.3,1434.9 L1758.7,1436.5 L1768.1,1438.1 L1777.6,1439.7 L1787,1441.3 L1796.4,1442.8 L1805.9,1444.4 L1815.3,1445.9 L1824.7,1447.5 L1834.2,1449 L1843.6,1450.6" fill="none" stroke="#2f4272" stroke-width="1.5" stroke-dasharray="4.6,4.1"/>
<path d="M1277.6,1598.8 L1287,1600.3 L1296.5,1601.9 L1305.9,1603.5 L1315.3,1605.1 L1324.8,1606.7 L1334.2,1608.3 L1343.6,1609.9 L1353.1,1611.5 L1362.5,1613.2 L1371.9,1614.8 L1381.4,1616.4 L1390.8,1618.1 L1400.2,1619.8 L1409.7,1621.4 L1419.1,1623.1 L1428.5,1624.8 L1438,1626.5 L1447.4,1628.2 L1456.8,1629.9 L1466.3,1631.6 L1475.7,1633.3 L1485.1,1635 L1494.6,1636.7 L1504,1638.5 L1513.4,1640.2 L1522.9,1642 L1532.3,1643.7 L1541.7,1645.5 L1551.2,1647.3 L1560.6,1649.1 L1570,1650.9 L1579.5,1652.7 L1588.9,1654.5 L1598.3,1656.3 L1607.8,1658.1 L1617.2,1659.9 L1626.6,1661.8 L1636.1,1663.6 L1645.5,1665.5 L1654.9,1667.3 L1664.4,1669.2 L1673.8,1671.1 L1683.2,1672.9 L1692.7,1674.8 L1702.1,1676.7 L1711.5,1678.6 L1721,1680.5 L1730.4,1682.5 L1739.8,1684.4 L1749.3,1686.3 L1758.7,1688.3 L1768.1,1690.2 L1777.6,1692.2 L1787,1694.1 L1796.4,1696.1 L1805.9,1698.1 L1815.3,1700 L1824.7,1702 L1834.2,1704 L1843.6,1706" fill="none" stroke="#2f4272" stroke-width="1.5" stroke-dasharray="4.6,4.1"/>
<line x1="1277.6" y1="1472.2" x2="1843.6" y2="1578.3" stroke="#0b3079" stroke-width="2.6"/>
<circle cx="1277.6" cy="1454.7" r="3.65" fill="none" stroke="#111" stroke-width="1.45"/>
<circle cx="1302" cy="1388.1" r="3.65" fill="none" stroke="#111" stroke-width="1.45"/>
<circle cx="1319.1" cy="1463.6" r="3.65" fill="none" stroke="#111" stroke-width="1.45"/>
<circle cx="1316.2" cy="1490.5" r="3.65" fill="none" stroke="#111" stroke-width="1.45"/>
<circle cx="1301" cy="1518.4" r="3.65" fill="none" stroke="#111" stroke-width="1.45"/>
<circle cx="1307.4" cy="1567.2" r="3.65" fill="none" stroke="#111" stroke-width="1.45"/>
<circle cx="1322.9" cy="1566.9" r="3.65" fill="none" stroke="#111" stroke-width="1.45"/>
<circle cx="1334.3" cy="1423.3" r="3.65" fill="none" stroke="#111" stroke-width="1.45"/>
<circle cx="1343.5" cy="1441.7" r="3.65" fill="none" stroke="#111" stroke-width="1.45"/>
<circle cx="1338.4" cy="1510.5" r="3.65" fill="none" stroke="#111" stroke-width="1.45"/>
<circle cx="1365.4" cy="1545.4" r="3.65" fill="none" stroke="#111" stroke-width="1.45"/>
<circle cx="1380.9" cy="1406.5" r="3.65" fill="none" stroke="#111" stroke-width="1.45"/>
<circle cx="1386.3" cy="1427.8" r="3.65" fill="none" stroke="#111" stroke-width="1.45"/>
<circle cx="1379.6" cy="1443.9" r="3.65" fill="none" stroke="#111" stroke-width="1.45"/>
<circle cx="1418.3" cy="1424.3" r="3.65" fill="none" stroke="#111" stroke-width="1.45"/>
<circle cx="1430.4" cy="1433.5" r="3.65" fill="none" stroke="#111" stroke-width="1.45"/>
<circle cx="1440.5" cy="1460.1" r="3.65" fill="none" stroke="#111" stroke-width="1.45"/>
<circle cx="1429.1" cy="1501" r="3.65" fill="none" stroke="#111" stroke-width="1.45"/>
<circle cx="1443" cy="1506.7" r="3.65" fill="none" stroke="#111" stroke-width="1.45"/>
<circle cx="1429.1" cy="1514.9" r="3.65" fill="none" stroke="#111" stroke-width="1.45"/>
<circle cx="1445.6" cy="1569.1" r="3.65" fill="none" stroke="#111" stroke-width="1.45"/>
<circle cx="1463.6" cy="1503.2" r="3.65" fill="none" stroke="#111" stroke-width="1.45"/>
<circle cx="1470.3" cy="1509.5" r="3.65" fill="none" stroke="#111" stroke-width="1.45"/>
<circle cx="1488" cy="1516.2" r="3.65" fill="none" stroke="#111" stroke-width="1.45"/>
<circle cx="1496.3" cy="1516.2" r="3.65" fill="none" stroke="#111" stroke-width="1.45"/>
<circle cx="1505.2" cy="1490.2" r="3.65" fill="none" stroke="#111" stroke-width="1.45"/>
<circle cx="1511.5" cy="1531.7" r="3.65" fill="none" stroke="#111" stroke-width="1.45"/>
<circle cx="1492.2" cy="1550.4" r="3.65" fill="none" stroke="#111" stroke-width="1.45"/>
<circle cx="1513.1" cy="1657.9" r="3.65" fill="none" stroke="#111" stroke-width="1.45"/>
<circle cx="1531.2" cy="1514" r="3.65" fill="none" stroke="#111" stroke-width="1.45"/>
<circle cx="1543.8" cy="1498.8" r="3.65" fill="none" stroke="#111" stroke-width="1.45"/>
<circle cx="1543.8" cy="1535.2" r="3.65" fill="none" stroke="#111" stroke-width="1.45"/>
<circle cx="1545.4" cy="1563.8" r="3.65" fill="none" stroke="#111" stroke-width="1.45"/>
<circle cx="1558" cy="1586.9" r="3.65" fill="none" stroke="#111" stroke-width="1.45"/>
<circle cx="1563.1" cy="1499.1" r="3.65" fill="none" stroke="#111" stroke-width="1.45"/>
<circle cx="1569.7" cy="1518.4" r="3.65" fill="none" stroke="#111" stroke-width="1.45"/>
<circle cx="1576.1" cy="1673.8" r="3.65" fill="none" stroke="#111" stroke-width="1.45"/>
<circle cx="1589.1" cy="1631.9" r="3.65" fill="none" stroke="#111" stroke-width="1.45"/>
<circle cx="1600.5" cy="1546.9" r="3.65" fill="none" stroke="#111" stroke-width="1.45"/>
<circle cx="1621.4" cy="1531.1" r="3.65" fill="none" stroke="#111" stroke-width="1.45"/>
<circle cx="1623.9" cy="1485.1" r="3.65" fill="none" stroke="#111" stroke-width="1.45"/>
<circle cx="1636.9" cy="1559.6" r="3.65" fill="none" stroke="#111" stroke-width="1.45"/>
<circle cx="1651.2" cy="1361.2" r="3.65" fill="none" stroke="#111" stroke-width="1.45"/>
<circle cx="1651.2" cy="1605.3" r="3.65" fill="none" stroke="#111" stroke-width="1.45"/>
<circle cx="1660.4" cy="1546.9" r="3.65" fill="none" stroke="#111" stroke-width="1.45"/>
<circle cx="1662.6" cy="1638.2" r="3.65" fill="none" stroke="#111" stroke-width="1.45"/>
<circle cx="1671.8" cy="1460.4" r="3.65" fill="none" stroke="#111" stroke-width="1.45"/>
<circle cx="1675.6" cy="1542.5" r="3.65" fill="none" stroke="#111" stroke-width="1.45"/>
<circle cx="1706.7" cy="1548.9" r="3.65" fill="none" stroke="#111" stroke-width="1.45"/>
<circle cx="1713.3" cy="1509.5" r="3.65" fill="none" stroke="#111" stroke-width="1.45"/>
<circle cx="1732.7" cy="1557.1" r="3.65" fill="none" stroke="#111" stroke-width="1.45"/>
<circle cx="1736.5" cy="1471.8" r="3.65" fill="none" stroke="#111" stroke-width="1.45"/>
<circle cx="1741.6" cy="1627.2" r="3.65" fill="none" stroke="#111" stroke-width="1.45"/>
<circle cx="1750.4" cy="1475.9" r="3.65" fill="none" stroke="#111" stroke-width="1.45"/>
<circle cx="1759.6" cy="1525.4" r="3.65" fill="none" stroke="#111" stroke-width="1.45"/>
<circle cx="1824.3" cy="1648.4" r="3.65" fill="none" stroke="#111" stroke-width="1.45"/>
<circle cx="1832.2" cy="1625.9" r="3.65" fill="none" stroke="#111" stroke-width="1.45"/>
<circle cx="1836.3" cy="1537.8" r="3.65" fill="none" stroke="#111" stroke-width="1.45"/>
<circle cx="1843.6" cy="1571" r="3.65" fill="none" stroke="#111" stroke-width="1.45"/>
<rect x="1221.2" y="1319.7" width="664.2" height="482" fill="none" stroke="#222" stroke-width="1.3"/>
<line x1="1213.7" y1="1327.9" x2="1221.2" y2="1327.9" stroke="#222" stroke-width="1.3"/>
<text x="1208.9" y="1333.7" text-anchor="end" class="st">14</text>
<line x1="1213.7" y1="1386.1" x2="1221.2" y2="1386.1" stroke="#222" stroke-width="1.3"/>
<text x="1208.9" y="1391.9" text-anchor="end" class="st">13</text>
<line x1="1213.7" y1="1444.3" x2="1221.2" y2="1444.3" stroke="#222" stroke-width="1.3"/>
<text x="1208.9" y="1450.1" text-anchor="end" class="st">12</text>
<line x1="1213.7" y1="1502.4" x2="1221.2" y2="1502.4" stroke="#222" stroke-width="1.3"/>
<text x="1208.9" y="1508.2" text-anchor="end" class="st">11</text>
<line x1="1213.7" y1="1560.6" x2="1221.2" y2="1560.6" stroke="#222" stroke-width="1.3"/>
<text x="1208.9" y="1566.4" text-anchor="end" class="st">10</text>
<line x1="1213.7" y1="1618.8" x2="1221.2" y2="1618.8" stroke="#222" stroke-width="1.3"/>
<text x="1208.9" y="1624.6" text-anchor="end" class="st">9</text>
<line x1="1213.7" y1="1677" x2="1221.2" y2="1677" stroke="#222" stroke-width="1.3"/>
<text x="1208.9" y="1682.8" text-anchor="end" class="st">8</text>
<line x1="1213.7" y1="1735.2" x2="1221.2" y2="1735.2" stroke="#222" stroke-width="1.3"/>
<text x="1208.9" y="1741" text-anchor="end" class="st">7</text>
<line x1="1213.7" y1="1793.3" x2="1221.2" y2="1793.3" stroke="#222" stroke-width="1.3"/>
<text x="1208.9" y="1799.1" text-anchor="end" class="st">6</text>
<line x1="1229.7" y1="1801.7" x2="1229.7" y2="1809.7" stroke="#222" stroke-width="1.3"/>
<text x="1229.7" y="1830.2" text-anchor="middle" class="st">0</text>
<line x1="1294.4" y1="1801.7" x2="1294.4" y2="1809.7" stroke="#222" stroke-width="1.3"/>
<text x="1294.4" y="1830.2" text-anchor="middle" class="st">5</text>
<line x1="1359" y1="1801.7" x2="1359" y2="1809.7" stroke="#222" stroke-width="1.3"/>
<text x="1359" y="1830.2" text-anchor="middle" class="st">10</text>
<line x1="1423.7" y1="1801.7" x2="1423.7" y2="1809.7" stroke="#222" stroke-width="1.3"/>
<text x="1423.7" y="1830.2" text-anchor="middle" class="st">15</text>
<line x1="1488.3" y1="1801.7" x2="1488.3" y2="1809.7" stroke="#222" stroke-width="1.3"/>
<text x="1488.3" y="1830.2" text-anchor="middle" class="st">20</text>
<line x1="1553" y1="1801.7" x2="1553" y2="1809.7" stroke="#222" stroke-width="1.3"/>
<text x="1553" y="1830.2" text-anchor="middle" class="st">25</text>
<line x1="1617.6" y1="1801.7" x2="1617.6" y2="1809.7" stroke="#222" stroke-width="1.3"/>
<text x="1617.6" y="1830.2" text-anchor="middle" class="st">30</text>
<line x1="1682.2" y1="1801.7" x2="1682.2" y2="1809.7" stroke="#222" stroke-width="1.3"/>
<text x="1682.2" y="1830.2" text-anchor="middle" class="st">35</text>
<line x1="1746.9" y1="1801.7" x2="1746.9" y2="1809.7" stroke="#222" stroke-width="1.3"/>
<text x="1746.9" y="1830.2" text-anchor="middle" class="st">40</text>
<line x1="1811.6" y1="1801.7" x2="1811.6" y2="1809.7" stroke="#222" stroke-width="1.3"/>
<text x="1811.6" y="1830.2" text-anchor="middle" class="st">45</text>
<line x1="1876.2" y1="1801.7" x2="1876.2" y2="1809.7" stroke="#222" stroke-width="1.3"/>
<text x="1876.2" y="1830.2" text-anchor="middle" class="st">50</text>
<text x="1553.5" y="1858.6" text-anchor="middle" class="sx">CD45RA+/CCR7- T cells(%)</text>
<text transform="translate(1167.1,1560.7) rotate(-90)" text-anchor="middle" class="sy" textLength="268" lengthAdjust="spacingAndGlyphs">Ln(AUClast, day*copies/ug gDNA)</text>
<text x="1695.3" y="1342.8" class="ss">Number of Patients: 59</text>
<text x="1695.3" y="1361.8" class="ss">R-square: 0.1919</text>
<text x="1695.3" y="1380.8" class="ss">P value: 0.0005</text>
<text x="1129.5" y="1334.9" class="lt">h</text>
</svg>
</body></html>
